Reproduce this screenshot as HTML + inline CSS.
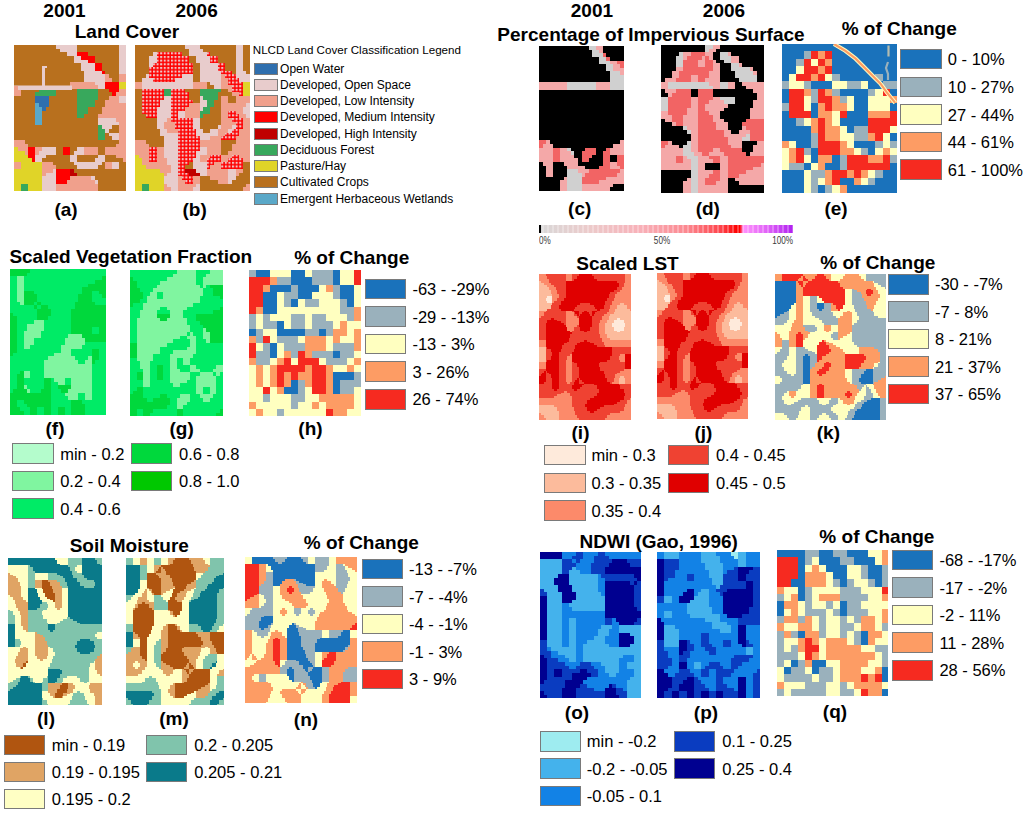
<!DOCTYPE html>
<html><head><meta charset="utf-8"><style>
html,body{margin:0;padding:0;background:#fff;}
body{width:1024px;height:814px;position:relative;overflow:hidden;font-family:"Liberation Sans", sans-serif;}
.t{position:absolute;white-space:nowrap;line-height:1;}
.s{position:absolute;box-sizing:border-box;border:1px solid #7a7a7a;}
.m{position:absolute;display:block;}
</style></head><body>
<svg class="m" style="left:14px;top:45px;width:112px;height:146px" viewBox="0 0 32 40" preserveAspectRatio="none" shape-rendering="crispEdges"><rect width="32" height="40" fill="#b8701e"/><path fill="#e8cccc" d="M12 0h6v1h-6zM30 0h2v1h-2zM13 1h5v1h-5zM30 1h2v1h-2zM15 2h3v1h-3zM30 2h2v1h-2zM17 3h2v1h-2zM30 3h2v1h-2zM17 4h4v1h-4zM30 4h2v1h-2zM19 5h4v1h-4zM30 5h2v1h-2zM19 6h4v1h-4zM30 6h2v1h-2zM20 7h5v1h-5zM30 7h2v1h-2zM20 8h6v1h-6zM20 9h6v1h-6zM23 10h3v1h-3zM24 11h2v1h-2zM30 14h2v1h-2zM30 15h2v1h-2zM24 20h5v1h-5zM24 21h6v1h-6zM25 22h3v1h-3zM26 23h1v1h-1zM27 24h3v1h-3zM28 25h2v1h-2zM8 28h4v1h-4zM18 28h2v1h-2zM7 29h5v1h-5zM17 29h3v1h-3zM6 30h3v1h-3zM16 30h2v1h-2zM24 30h2v1h-2zM6 31h2v1h-2zM16 31h2v1h-2zM23 31h3v1h-3zM17 32h8v1h-8zM28 32h2v1h-2zM18 33h6v1h-6zM28 33h2v1h-2zM11 34h1v1h-1zM9 35h3v1h-3zM8 36h4v1h-4zM22 36h1v1h-1zM8 37h4v1h-4zM23 37h1v1h-1zM8 38h4v1h-4zM8 39h4v1h-4z"/><path fill="#ff0000" d="M18 2h3v1h-3zM19 3h4v1h-4zM21 4h2v1h-2zM23 5h2v1h-2zM23 6h2v1h-2zM25 7h1v1h-1zM26 10h4v1h-4zM26 11h4v1h-4zM27 12h3v1h-3zM28 13h1v1h-1zM4 28h2v1h-2zM14 28h2v1h-2zM4 29h2v1h-2zM14 29h2v1h-2zM4 30h2v1h-2zM5 31h1v1h-1zM12 34h4v1h-4zM12 35h4v1h-4zM12 36h4v1h-4zM12 37h3v1h-3z"/><path fill="#f0a08c" d="M26 8h1v1h-1zM30 8h2v1h-2zM26 9h2v1h-2zM30 9h2v1h-2zM16 10h7v1h-7zM16 11h8v1h-8zM0 12h2v1h-2zM30 12h2v1h-2zM0 13h2v1h-2zM29 13h3v1h-3zM27 14h3v1h-3zM26 15h4v1h-4zM26 16h6v1h-6zM25 17h7v1h-7zM25 18h7v1h-7zM24 19h8v1h-8zM29 20h3v1h-3zM30 21h2v1h-2zM30 22h2v1h-2zM30 23h2v1h-2zM30 24h2v1h-2zM30 25h2v1h-2zM0 26h3v1h-3zM30 26h2v1h-2zM0 27h4v1h-4zM29 27h3v1h-3zM1 28h3v1h-3zM6 28h2v1h-2zM20 28h4v1h-4zM26 28h6v1h-6zM3 29h1v1h-1zM6 29h1v1h-1zM20 29h4v1h-4zM26 29h6v1h-6zM29 30h3v1h-3zM31 31h1v1h-1zM0 32h2v1h-2zM8 32h3v1h-3zM26 32h2v1h-2zM0 33h2v1h-2zM8 33h4v1h-4zM26 33h2v1h-2zM8 34h3v1h-3zM8 35h1v1h-1zM16 36h6v1h-6zM15 37h8v1h-8zM12 38h12v1h-12zM12 39h12v1h-12z"/><path fill="#e0d428" d="M30 10h2v1h-2zM30 11h2v1h-2zM0 28h1v1h-1zM0 29h3v1h-3zM0 30h4v1h-4zM0 31h5v1h-5zM2 32h6v1h-6zM2 33h6v1h-6zM0 34h8v1h-8zM0 35h8v1h-8zM0 36h8v1h-8zM0 37h8v1h-8zM0 38h2v1h-2zM4 38h4v1h-4zM0 39h2v1h-2zM4 39h4v1h-4z"/><path fill="#38a85c" d="M7 12h5v1h-5zM18 12h6v1h-6zM6 13h6v1h-6zM18 13h6v1h-6zM18 14h6v1h-6zM18 15h5v1h-5zM18 16h5v1h-5zM18 17h3v1h-3zM18 18h3v1h-3zM18 19h2v1h-2zM24 22h1v1h-1zM24 23h2v1h-2zM24 24h2v1h-2zM24 25h2v1h-2zM2 38h2v1h-2zM2 39h2v1h-2z"/><path fill="#2f6fae" d="M6 14h4v1h-4zM6 15h4v1h-4zM7 16h3v1h-3zM8 17h1v1h-1z"/><path fill="#5aa8c8" d="M6 16h1v1h-1zM6 17h2v1h-2zM6 18h2v1h-2zM6 19h2v1h-2zM6 20h2v1h-2zM6 21h2v1h-2z"/><path fill="#c00000" d="M16 34h1v1h-1zM16 35h2v1h-2z"/><g transform="scale(0.28571,0.27397)" shape-rendering="auto"><rect x="0" y="40.5" width="58" height="4.5" fill="#e8cccc"/><rect x="0" y="41" width="4" height="6" fill="#f0a08c"/><rect x="28" y="21" width="3" height="20" fill="#e8cccc"/><rect x="28" y="21" width="5" height="2" fill="#e8cccc"/></g></svg>
<svg class="m" style="left:135px;top:45px;width:115px;height:146px" viewBox="0 0 32 40" preserveAspectRatio="none" shape-rendering="crispEdges"><rect width="32" height="40" fill="#b8701e"/><path fill="#e8cccc" d="M14 0h4v1h-4zM28 0h2v1h-2zM15 1h4v1h-4zM28 1h2v1h-2zM5 2h1v1h-1zM15 2h5v1h-5zM28 2h2v1h-2zM4 3h2v1h-2zM17 3h4v1h-4zM28 3h2v1h-2zM4 4h2v1h-2zM17 4h4v1h-4zM28 4h2v1h-2zM4 5h1v1h-1zM18 5h5v1h-5zM28 5h2v1h-2zM18 6h5v1h-5zM28 6h2v1h-2zM18 7h6v1h-6zM28 7h3v1h-3zM3 8h1v1h-1zM13 8h3v1h-3zM18 8h6v1h-6zM28 8h4v1h-4zM2 9h3v1h-3zM11 9h5v1h-5zM18 9h6v1h-6zM29 9h3v1h-3zM2 10h14v1h-14zM21 10h3v1h-3zM2 11h14v1h-14zM22 11h2v1h-2zM8 14h2v1h-2zM18 14h1v1h-1zM7 15h3v1h-3zM18 15h2v1h-2zM7 16h3v1h-3zM18 16h2v1h-2zM31 16h1v1h-1zM6 17h4v1h-4zM18 17h1v1h-1zM30 17h2v1h-2zM6 18h4v1h-4zM12 18h2v1h-2zM30 18h2v1h-2zM6 19h4v1h-4zM12 19h2v1h-2zM31 19h1v1h-1zM6 20h3v1h-3zM16 20h2v1h-2zM6 21h2v1h-2zM16 21h2v1h-2zM6 22h2v1h-2zM16 22h2v1h-2zM23 22h1v1h-1zM27 22h1v1h-1zM7 23h2v1h-2zM17 23h2v1h-2zM21 23h2v1h-2zM26 23h1v1h-1zM7 24h5v1h-5zM17 24h6v1h-6zM8 25h4v1h-4zM18 25h3v1h-3zM8 26h4v1h-4zM8 27h4v1h-4zM8 28h4v1h-4zM18 28h2v1h-2zM8 29h4v1h-4zM17 29h3v1h-3zM8 30h4v1h-4zM17 30h1v1h-1zM9 31h3v1h-3zM16 31h2v1h-2zM9 32h3v1h-3zM16 32h4v1h-4zM10 33h2v1h-2zM16 33h4v1h-4zM10 34h2v1h-2zM17 34h3v1h-3zM26 34h2v1h-2zM9 35h3v1h-3zM18 35h2v1h-2zM26 35h2v1h-2zM8 36h4v1h-4zM26 36h2v1h-2zM8 37h4v1h-4zM26 37h1v1h-1zM9 38h3v1h-3zM17 38h1v1h-1zM10 39h2v1h-2zM16 39h2v1h-2z"/><path fill="url(#pbm)" d="M6 2h7v1h-7zM20 2h1v1h-1zM6 3h9v1h-9zM21 3h2v1h-2zM6 4h9v1h-9zM21 4h2v1h-2zM5 5h11v1h-11zM23 5h2v1h-2zM4 6h12v1h-12zM23 6h2v1h-2zM4 7h12v1h-12zM24 7h3v1h-3zM4 8h9v1h-9zM25 8h3v1h-3zM5 9h6v1h-6zM26 9h3v1h-3zM26 10h4v1h-4zM27 11h3v1h-3zM2 12h6v1h-6zM10 12h4v1h-4zM27 12h3v1h-3zM2 13h6v1h-6zM10 13h5v1h-5zM29 13h1v1h-1zM2 14h6v1h-6zM10 14h5v1h-5zM2 15h5v1h-5zM10 15h6v1h-6zM2 16h5v1h-5zM10 16h5v1h-5zM2 17h4v1h-4zM10 17h4v1h-4zM2 18h4v1h-4zM10 18h2v1h-2zM26 18h2v1h-2zM3 19h3v1h-3zM10 19h2v1h-2zM26 19h3v1h-3zM10 20h6v1h-6zM27 20h3v1h-3zM11 21h5v1h-5zM28 21h2v1h-2zM11 22h5v1h-5zM28 22h2v1h-2zM12 23h5v1h-5zM27 23h2v1h-2zM12 24h5v1h-5zM25 24h4v1h-4zM12 25h6v1h-6zM24 25h4v1h-4zM12 26h6v1h-6zM12 27h6v1h-6zM4 28h2v1h-2zM12 28h6v1h-6zM4 29h2v1h-2zM12 29h5v1h-5zM4 30h2v1h-2zM12 30h5v1h-5zM21 30h3v1h-3zM27 30h2v1h-2zM4 31h2v1h-2zM12 31h4v1h-4zM20 31h4v1h-4zM26 31h4v1h-4zM12 32h3v1h-3zM20 32h2v1h-2zM24 32h6v1h-6zM12 33h2v1h-2zM20 33h1v1h-1zM24 33h6v1h-6zM12 34h2v1h-2zM12 35h3v1h-3zM13 36h3v1h-3zM14 37h2v1h-2z"/><path fill="#f0a08c" d="M24 8h1v1h-1zM24 9h2v1h-2zM0 10h2v1h-2zM16 10h4v1h-4zM24 10h2v1h-2zM0 11h2v1h-2zM16 11h4v1h-4zM24 11h3v1h-3zM26 12h1v1h-1zM27 13h2v1h-2zM24 14h2v1h-2zM28 14h4v1h-4zM24 15h2v1h-2zM28 15h4v1h-4zM15 16h3v1h-3zM24 16h7v1h-7zM14 17h4v1h-4zM24 17h6v1h-6zM14 18h4v1h-4zM24 18h2v1h-2zM28 18h2v1h-2zM14 19h4v1h-4zM24 19h2v1h-2zM29 19h2v1h-2zM9 20h1v1h-1zM24 20h3v1h-3zM30 20h2v1h-2zM8 21h3v1h-3zM24 21h4v1h-4zM30 21h2v1h-2zM8 22h3v1h-3zM24 22h3v1h-3zM30 22h2v1h-2zM9 23h3v1h-3zM23 23h3v1h-3zM29 23h3v1h-3zM23 24h2v1h-2zM29 24h3v1h-3zM21 25h3v1h-3zM28 25h4v1h-4zM0 26h3v1h-3zM18 26h6v1h-6zM28 26h4v1h-4zM0 27h4v1h-4zM18 27h6v1h-6zM27 27h5v1h-5zM0 28h4v1h-4zM6 28h2v1h-2zM20 28h4v1h-4zM27 28h5v1h-5zM0 29h4v1h-4zM6 29h2v1h-2zM20 29h4v1h-4zM26 29h6v1h-6zM1 30h3v1h-3zM6 30h2v1h-2zM18 30h3v1h-3zM24 30h3v1h-3zM29 30h3v1h-3zM2 31h2v1h-2zM6 31h3v1h-3zM18 31h2v1h-2zM24 31h2v1h-2zM30 31h2v1h-2zM2 32h7v1h-7zM22 32h2v1h-2zM3 33h7v1h-7zM21 33h3v1h-3zM7 34h3v1h-3zM20 34h6v1h-6zM28 34h2v1h-2zM8 35h1v1h-1zM20 35h6v1h-6zM28 35h1v1h-1zM12 36h1v1h-1zM16 36h2v1h-2zM21 36h5v1h-5zM12 37h2v1h-2zM16 37h2v1h-2zM23 37h3v1h-3zM8 38h1v1h-1zM12 38h5v1h-5zM31 38h1v1h-1zM8 39h2v1h-2zM12 39h4v1h-4zM30 39h2v1h-2z"/><path fill="#e0d428" d="M30 10h2v1h-2zM30 11h2v1h-2zM30 12h2v1h-2zM30 13h2v1h-2zM0 30h1v1h-1zM0 31h2v1h-2zM0 32h2v1h-2zM0 33h3v1h-3zM0 34h7v1h-7zM0 35h8v1h-8zM0 36h8v1h-8zM0 37h8v1h-8zM0 38h2v1h-2zM4 38h4v1h-4zM0 39h2v1h-2zM4 39h4v1h-4z"/><path fill="#38a85c" d="M8 12h2v1h-2zM18 12h6v1h-6zM8 13h2v1h-2zM18 13h5v1h-5zM19 14h4v1h-4zM20 15h2v1h-2zM20 16h2v1h-2zM19 17h2v1h-2zM18 18h3v1h-3zM18 19h1v1h-1zM2 38h2v1h-2zM2 39h2v1h-2z"/><path fill="#c00000" d="M14 34h3v1h-3zM15 35h3v1h-3z"/><g transform="scale(0.27826,0.27397)" shape-rendering="auto"><defs><pattern id="pbm" patternUnits="userSpaceOnUse" width="1" height="1"><rect width="1" height="1" fill="#ff0000"/><rect width="0.58" height="0.58" fill="#eec4c4"/></pattern></defs></g></svg>
<svg class="m" style="left:539px;top:46px;width:85px;height:145px" viewBox="0 0 24 40" preserveAspectRatio="none" shape-rendering="crispEdges"><rect width="24" height="40" fill="#000000"/><path fill="#d0d0d0" d="M14 0h2v1h-2zM15 1h2v1h-2zM15 2h3v1h-3zM17 3h2v1h-2zM17 4h3v1h-3zM19 5h2v1h-2zM19 6h2v1h-2zM20 7h3v1h-3zM20 8h4v1h-4zM20 9h4v1h-4zM8 10h8v1h-8zM20 10h4v1h-4zM8 11h8v1h-8zM20 11h4v1h-4zM8 28h1v1h-1zM9 29h1v1h-1zM8 34h3v1h-3zM8 35h4v1h-4zM8 36h4v1h-4zM8 37h4v1h-4zM8 38h4v1h-4zM8 39h4v1h-4z"/><path fill="#f4a8a8" d="M16 0h2v1h-2zM17 1h1v1h-1zM20 4h2v1h-2zM21 5h2v1h-2zM21 6h3v1h-3zM23 7h1v1h-1zM0 10h8v1h-8zM16 10h4v1h-4zM0 11h8v1h-8zM16 11h4v1h-4zM2 26h1v1h-1zM23 26h1v1h-1zM1 27h3v1h-3zM21 27h3v1h-3zM0 28h4v1h-4zM6 28h2v1h-2zM20 28h4v1h-4zM0 29h4v1h-4zM6 29h3v1h-3zM20 29h4v1h-4zM0 30h4v1h-4zM6 30h4v1h-4zM0 31h4v1h-4zM6 31h5v1h-5zM1 32h3v1h-3zM7 32h4v1h-4zM20 32h2v1h-2zM2 33h2v1h-2zM8 33h5v1h-5zM20 33h3v1h-3zM2 34h2v1h-2zM11 34h3v1h-3zM23 34h1v1h-1zM2 35h2v1h-2zM12 35h1v1h-1zM22 35h2v1h-2zM7 36h1v1h-1zM19 36h5v1h-5zM6 37h2v1h-2zM17 37h7v1h-7zM6 38h2v1h-2zM12 38h9v1h-9zM6 39h2v1h-2zM12 39h8v1h-8z"/><path fill="#f26464" d="M18 2h1v1h-1zM19 3h1v1h-1zM22 4h2v1h-2zM23 5h1v1h-1zM0 26h2v1h-2zM0 27h1v1h-1zM4 28h2v1h-2zM13 28h3v1h-3zM19 28h1v1h-1zM4 29h2v1h-2zM12 29h4v1h-4zM18 29h2v1h-2zM4 30h2v1h-2zM12 30h3v1h-3zM18 30h2v1h-2zM22 30h2v1h-2zM4 31h2v1h-2zM12 31h2v1h-2zM18 31h2v1h-2zM22 31h2v1h-2zM18 32h2v1h-2zM22 32h2v1h-2zM17 33h3v1h-3zM23 33h1v1h-1zM14 34h9v1h-9zM13 35h9v1h-9zM12 36h7v1h-7zM12 37h5v1h-5z"/></svg>
<svg class="m" style="left:660.5px;top:45px;width:103.5px;height:147.5px" viewBox="0 0 28 40" preserveAspectRatio="none" shape-rendering="crispEdges"><rect width="28" height="40" fill="#f4a8a8"/><path fill="#000000" d="M0 0h12v1h-12zM16 0h12v1h-12zM0 1h12v1h-12zM15 1h13v1h-13zM0 2h5v1h-5zM14 2h2v1h-2zM19 2h9v1h-9zM0 3h4v1h-4zM14 3h2v1h-2zM21 3h7v1h-7zM0 4h4v1h-4zM15 4h2v1h-2zM21 4h7v1h-7zM0 5h4v1h-4zM16 5h3v1h-3zM22 5h6v1h-6zM0 6h4v1h-4zM16 6h3v1h-3zM25 6h3v1h-3zM0 7h3v1h-3zM16 7h4v1h-4zM26 7h2v1h-2zM0 8h3v1h-3zM16 8h4v1h-4zM26 8h2v1h-2zM0 9h1v1h-1zM16 9h5v1h-5zM26 9h2v1h-2zM20 10h2v1h-2zM20 11h3v1h-3zM0 12h1v1h-1zM8 12h2v1h-2zM14 12h11v1h-11zM0 13h2v1h-2zM8 13h2v1h-2zM14 13h12v1h-12zM20 14h6v1h-6zM20 15h5v1h-5zM18 16h7v1h-7zM17 17h7v1h-7zM16 18h8v1h-8zM16 19h8v1h-8zM0 20h1v1h-1zM17 20h6v1h-6zM0 21h3v1h-3zM18 21h4v1h-4zM0 22h6v1h-6zM18 22h4v1h-4zM0 23h7v1h-7zM19 23h2v1h-2zM0 24h8v1h-8zM0 25h8v1h-8zM3 26h4v1h-4zM22 26h4v1h-4zM5 27h1v1h-1zM22 27h3v1h-3zM22 28h3v1h-3zM23 29h1v1h-1zM12 32h4v1h-4zM12 33h4v1h-4zM0 34h8v1h-8zM0 35h8v1h-8zM0 36h7v1h-7zM18 36h2v1h-2zM0 37h6v1h-6zM18 37h3v1h-3zM0 38h6v1h-6zM18 38h10v1h-10zM0 39h6v1h-6zM18 39h10v1h-10z"/><path fill="#d0d0d0" d="M12 0h2v1h-2zM12 1h1v1h-1zM5 2h1v1h-1zM16 2h2v1h-2zM4 3h2v1h-2zM16 3h3v1h-3zM4 4h2v1h-2zM17 4h2v1h-2zM4 5h2v1h-2zM19 5h2v1h-2zM19 6h5v1h-5zM20 7h5v1h-5zM20 8h6v1h-6zM21 9h5v1h-5zM2 10h11v1h-11zM16 10h2v1h-2zM2 11h12v1h-12zM16 11h2v1h-2zM0 14h2v1h-2zM16 14h4v1h-4zM0 15h2v1h-2zM17 15h3v1h-3zM0 16h2v1h-2zM0 17h2v1h-2zM6 22h1v1h-1zM7 23h1v1h-1zM23 24h1v1h-1zM22 25h2v1h-2zM7 26h1v1h-1zM6 27h2v1h-2zM6 28h2v1h-2zM6 29h3v1h-3zM7 30h3v1h-3zM8 31h2v1h-2zM8 32h2v1h-2zM8 33h2v1h-2zM8 34h2v1h-2zM8 35h2v1h-2zM8 36h2v1h-2zM8 37h2v1h-2zM8 38h2v1h-2zM8 39h2v1h-2z"/><path fill="#f26464" d="M8 2h4v1h-4zM7 3h4v1h-4zM12 3h1v1h-1zM6 4h4v1h-4zM12 4h2v1h-2zM6 5h4v1h-4zM12 5h2v1h-2zM6 6h8v1h-8zM5 7h8v1h-8zM5 8h3v1h-3zM10 8h3v1h-3zM4 9h4v1h-4zM10 9h2v1h-2zM4 12h4v1h-4zM10 12h4v1h-4zM3 13h5v1h-5zM10 13h4v1h-4zM2 14h6v1h-6zM10 14h4v1h-4zM2 15h6v1h-6zM10 15h3v1h-3zM2 16h6v1h-6zM10 16h2v1h-2zM2 17h5v1h-5zM10 17h2v1h-2zM2 18h5v1h-5zM10 18h3v1h-3zM3 19h3v1h-3zM10 19h4v1h-4zM3 20h3v1h-3zM10 20h4v1h-4zM23 20h5v1h-5zM4 21h2v1h-2zM10 21h5v1h-5zM22 21h6v1h-6zM10 22h5v1h-5zM23 22h5v1h-5zM10 23h7v1h-7zM24 23h4v1h-4zM10 24h7v1h-7zM24 24h4v1h-4zM10 25h8v1h-8zM24 25h4v1h-4zM0 26h2v1h-2zM10 26h8v1h-8zM0 27h1v1h-1zM10 27h9v1h-9zM10 28h4v1h-4zM16 28h6v1h-6zM11 29h2v1h-2zM17 29h6v1h-6zM4 30h2v1h-2zM13 30h3v1h-3zM18 30h10v1h-10zM4 31h2v1h-2zM14 31h2v1h-2zM18 31h10v1h-10zM18 32h9v1h-9zM18 33h7v1h-7zM14 34h2v1h-2zM18 34h5v1h-5zM13 35h3v1h-3zM18 35h3v1h-3zM12 36h4v1h-4zM12 37h3v1h-3z"/></svg>
<svg class="m" style="left:782px;top:44px;width:115px;height:148.5px" viewBox="0 0 16 20" preserveAspectRatio="none" shape-rendering="crispEdges"><rect width="16" height="20" fill="#1a72bb"/><path fill="#9ab1bc" d="M3 1h1v1h-1zM2 2h1v1h-1zM7 4h1v1h-1zM13 4h1v1h-1zM0 5h1v1h-1zM3 5h1v1h-1zM9 5h2v1h-2zM14 5h2v1h-2zM4 6h1v1h-1zM7 6h1v1h-1zM12 6h1v1h-1zM4 7h1v1h-1zM8 7h1v1h-1zM0 8h1v1h-1zM2 10h1v1h-1zM10 11h2v1h-2zM4 12h1v1h-1zM10 12h2v1h-2zM4 13h1v1h-1zM13 13h1v1h-1zM15 13h1v1h-1zM3 14h1v1h-1zM11 14h1v1h-1zM8 15h1v1h-1zM15 15h1v1h-1zM1 16h2v1h-2zM8 16h1v1h-1zM4 17h2v1h-2zM13 17h1v1h-1zM4 18h1v1h-1zM12 18h1v1h-1zM4 19h1v1h-1zM6 19h1v1h-1z"/><path fill="#f62a20" d="M4 1h1v1h-1zM6 1h1v1h-1zM3 2h1v1h-1zM5 2h1v1h-1zM3 3h2v1h-2zM6 3h1v1h-1zM2 4h2v1h-2zM5 4h1v1h-1zM1 6h2v1h-2zM5 6h1v1h-1zM14 6h1v1h-1zM1 7h2v1h-2zM5 7h2v1h-2zM1 8h2v1h-2zM6 8h1v1h-1zM1 9h3v1h-3zM8 9h1v1h-1zM15 9h1v1h-1zM5 10h1v1h-1zM12 10h4v1h-4zM5 11h1v1h-1zM12 11h3v1h-3zM5 12h1v1h-1zM13 12h1v1h-1zM5 13h3v1h-3zM2 14h1v1h-1zM5 14h3v1h-3zM2 15h1v1h-1zM9 15h3v1h-3zM14 15h1v1h-1zM9 16h6v1h-6zM7 17h2v1h-2zM10 17h1v1h-1zM7 18h1v1h-1z"/><path fill="#fd9c64" d="M5 1h1v1h-1zM6 2h1v1h-1zM5 3h1v1h-1zM4 4h1v1h-1zM3 6h1v1h-1zM6 6h1v1h-1zM7 7h1v1h-1zM15 7h1v1h-1zM5 8h1v1h-1zM7 8h2v1h-2zM5 9h2v1h-2zM12 9h3v1h-3zM4 10h1v1h-1zM6 10h1v1h-1zM4 11h1v1h-1zM6 11h2v1h-2zM6 12h2v1h-2zM12 12h1v1h-1zM0 13h1v1h-1zM8 13h1v1h-1zM1 14h1v1h-1zM8 14h2v1h-2zM14 14h1v1h-1zM1 15h1v1h-1zM5 15h2v1h-2zM12 15h2v1h-2zM5 16h1v1h-1zM6 17h1v1h-1zM9 17h1v1h-1zM11 17h1v1h-1zM6 18h1v1h-1zM10 18h1v1h-1zM8 19h1v1h-1z"/><path fill="#ffffc0" d="M4 2h1v1h-1zM2 3h1v1h-1zM1 4h1v1h-1zM6 4h1v1h-1zM1 5h2v1h-2zM7 5h2v1h-2zM11 5h1v1h-1zM13 6h1v1h-1zM3 7h1v1h-1zM9 7h1v1h-1zM12 7h3v1h-3zM3 8h1v1h-1zM9 8h1v1h-1zM12 8h3v1h-3zM7 9h1v1h-1zM3 10h1v1h-1zM7 10h1v1h-1zM8 11h1v1h-1zM15 11h1v1h-1zM8 12h2v1h-2zM14 12h1v1h-1zM1 13h1v1h-1zM9 13h1v1h-1zM14 13h1v1h-1zM0 14h1v1h-1zM10 14h1v1h-1zM13 14h1v1h-1zM15 14h1v1h-1zM0 15h1v1h-1zM3 15h1v1h-1zM0 16h1v1h-1zM4 16h1v1h-1zM3 17h1v1h-1zM12 17h1v1h-1zM3 18h1v1h-1zM5 18h1v1h-1zM11 18h1v1h-1zM3 19h1v1h-1zM7 19h1v1h-1z"/><g transform="scale(0.13913,0.13468)" shape-rendering="auto"><polyline points="52,0 63.4,6.8 73.6,14.7 81.5,22.6 90.6,31.7 98.5,39.6 104.2,47.6 108.7,53.2 113.2,58.9" fill="none" stroke="#ffffc0" stroke-width="4.2"/><polyline points="52,0 63.4,6.8 73.6,14.7 81.5,22.6 90.6,31.7 98.5,39.6 104.2,47.6 108.7,53.2 113.2,58.9" fill="none" stroke="#fd9c64" stroke-width="2.2"/><line x1="106.5" y1="1.5" x2="106.5" y2="12.5" stroke="#b4bcb0" stroke-width="2.2"/><polyline points="106,18 104,24 106,30 106,36" fill="none" stroke="#9ab1bc" stroke-width="2.2"/></g></svg>
<svg class="m" style="left:10px;top:269px;width:95.5px;height:145.5px" viewBox="0 0 28 40" preserveAspectRatio="none" shape-rendering="crispEdges"><rect width="28" height="40" fill="#00eb66"/><path fill="#00d83c" d="M0 0h6v1h-6zM0 1h5v1h-5zM27 2h1v1h-1zM25 3h3v1h-3zM23 4h5v1h-5zM21 5h7v1h-7zM4 6h3v1h-3zM21 6h3v1h-3zM26 6h2v1h-2zM4 7h4v1h-4zM20 7h4v1h-4zM27 7h1v1h-1zM4 8h4v1h-4zM20 8h4v1h-4zM4 9h3v1h-3zM8 9h1v1h-1zM19 9h6v1h-6zM7 10h1v1h-1zM9 10h2v1h-2zM19 10h9v1h-9zM8 11h4v1h-4zM18 11h10v1h-10zM0 12h1v1h-1zM8 12h4v1h-4zM18 12h10v1h-10zM0 13h2v1h-2zM8 13h3v1h-3zM18 13h10v1h-10zM0 14h2v1h-2zM18 14h10v1h-10zM0 15h2v1h-2zM18 15h10v1h-10zM0 16h2v1h-2zM18 16h6v1h-6zM26 16h2v1h-2zM0 17h2v1h-2zM18 17h6v1h-6zM26 17h2v1h-2zM0 18h2v1h-2zM21 18h7v1h-7zM0 19h2v1h-2zM22 19h6v1h-6zM0 20h2v1h-2zM0 21h2v1h-2zM0 22h2v1h-2zM24 22h2v1h-2zM0 23h1v1h-1zM24 23h2v1h-2zM24 24h2v1h-2zM24 25h1v1h-1zM3 28h1v1h-1zM2 29h2v1h-2zM2 30h2v1h-2zM10 30h2v1h-2zM2 31h2v1h-2zM10 31h2v1h-2zM2 32h2v1h-2zM10 32h2v1h-2zM14 32h4v1h-4zM1 33h4v1h-4zM9 33h3v1h-3zM15 33h2v1h-2zM0 34h12v1h-12zM0 35h12v1h-12zM0 36h2v1h-2zM4 36h8v1h-8zM18 36h3v1h-3zM0 37h2v1h-2zM5 37h7v1h-7zM18 37h4v1h-4zM0 38h3v1h-3zM6 38h2v1h-2zM10 38h2v1h-2zM14 38h2v1h-2zM18 38h4v1h-4zM0 39h4v1h-4zM6 39h2v1h-2zM10 39h2v1h-2zM14 39h2v1h-2zM18 39h4v1h-4z"/><path fill="#80f5a0" d="M2 2h2v1h-2zM2 3h2v1h-2zM2 4h2v1h-2zM2 5h2v1h-2zM2 6h2v1h-2zM2 7h2v1h-2zM2 8h2v1h-2zM3 9h1v1h-1zM7 14h3v1h-3zM5 15h5v1h-5zM5 16h5v1h-5zM4 17h5v1h-5zM4 18h5v1h-5zM17 18h4v1h-4zM4 19h3v1h-3zM16 19h6v1h-6zM4 20h3v1h-3zM16 20h6v1h-6zM4 21h2v1h-2zM15 21h6v1h-6zM15 22h3v1h-3zM13 23h5v1h-5zM11 24h8v1h-8zM23 24h1v1h-1zM10 25h10v1h-10zM22 25h2v1h-2zM10 26h14v1h-14zM10 27h14v1h-14zM4 28h2v1h-2zM10 28h14v1h-14zM4 29h2v1h-2zM10 29h14v1h-14zM13 30h3v1h-3zM18 30h6v1h-6zM14 31h2v1h-2zM18 31h6v1h-6zM4 32h1v1h-1zM18 32h6v1h-6zM5 33h1v1h-1zM17 33h7v1h-7zM16 34h4v1h-4zM22 34h2v1h-2zM17 35h3v1h-3zM22 35h2v1h-2z"/></svg>
<svg class="m" style="left:129.7px;top:269.7px;width:93.1px;height:146.2px" viewBox="0 0 28 40" preserveAspectRatio="none" shape-rendering="crispEdges"><rect width="28" height="40" fill="#00eb66"/><path fill="#80f5a0" d="M14 0h6v1h-6zM24 0h4v1h-4zM13 1h7v1h-7zM23 1h5v1h-5zM11 2h9v1h-9zM22 2h6v1h-6zM9 3h11v1h-11zM22 3h6v1h-6zM8 4h13v1h-13zM22 4h1v1h-1zM7 5h15v1h-15zM6 6h2v1h-2zM10 6h12v1h-12zM5 7h3v1h-3zM10 7h11v1h-11zM5 8h16v1h-16zM4 9h15v1h-15zM4 10h5v1h-5zM11 10h6v1h-6zM3 11h5v1h-5zM12 11h4v1h-4zM3 12h5v1h-5zM12 12h4v1h-4zM2 13h7v1h-7zM11 13h6v1h-6zM2 14h15v1h-15zM2 15h16v1h-16zM2 16h16v1h-16zM22 16h1v1h-1zM2 17h15v1h-15zM18 17h1v1h-1zM22 17h2v1h-2zM2 18h13v1h-13zM17 18h3v1h-3zM22 18h2v1h-2zM2 19h11v1h-11zM18 19h2v1h-2zM23 19h1v1h-1zM2 20h9v1h-9zM18 20h2v1h-2zM2 21h7v1h-7zM17 21h3v1h-3zM2 22h7v1h-7zM13 22h7v1h-7zM2 23h5v1h-5zM12 23h7v1h-7zM2 24h5v1h-5zM12 24h2v1h-2zM16 24h2v1h-2zM3 25h3v1h-3zM12 25h2v1h-2zM16 25h2v1h-2zM3 26h3v1h-3zM12 26h2v1h-2zM18 26h2v1h-2zM26 26h2v1h-2zM4 27h2v1h-2zM12 27h3v1h-3zM18 27h3v1h-3zM25 27h3v1h-3zM4 28h2v1h-2zM12 28h6v1h-6zM21 28h4v1h-4zM26 28h1v1h-1zM4 29h2v1h-2zM12 29h6v1h-6zM20 29h6v1h-6zM4 30h2v1h-2zM12 30h5v1h-5zM20 30h6v1h-6zM4 31h2v1h-2zM13 31h2v1h-2zM20 31h6v1h-6zM20 32h2v1h-2zM24 32h2v1h-2zM20 33h2v1h-2zM24 33h2v1h-2zM15 34h3v1h-3zM21 34h4v1h-4zM14 35h4v1h-4zM22 35h2v1h-2zM14 36h3v1h-3zM14 37h2v1h-2z"/><path fill="#00d83c" d="M0 2h1v1h-1zM0 3h2v1h-2zM0 4h2v1h-2zM24 4h4v1h-4zM0 5h3v1h-3zM25 5h3v1h-3zM0 6h4v1h-4zM25 6h3v1h-3zM0 7h4v1h-4zM27 7h1v1h-1zM0 8h3v1h-3zM0 9h1v1h-1zM27 10h1v1h-1zM25 11h3v1h-3zM8 12h4v1h-4zM20 12h8v1h-8zM9 13h2v1h-2zM20 13h8v1h-8zM21 14h7v1h-7zM22 15h6v1h-6zM23 16h5v1h-5zM24 17h4v1h-4zM24 18h4v1h-4zM24 19h4v1h-4zM0 20h2v1h-2zM0 21h2v1h-2zM0 22h2v1h-2zM0 23h2v1h-2zM8 26h2v1h-2zM8 27h2v1h-2zM2 28h2v1h-2zM8 28h2v1h-2zM2 29h2v1h-2zM8 29h2v1h-2zM2 32h2v1h-2zM1 33h3v1h-3zM0 34h4v1h-4zM9 34h2v1h-2zM0 35h5v1h-5zM7 35h5v1h-5zM0 36h12v1h-12zM0 37h11v1h-11zM0 38h2v1h-2zM4 38h3v1h-3zM14 38h2v1h-2zM27 38h1v1h-1zM0 39h2v1h-2zM4 39h2v1h-2zM14 39h2v1h-2zM26 39h2v1h-2z"/></svg>
<svg class="m" style="left:249.2px;top:270.1px;width:112.4px;height:146.4px" viewBox="0 0 16 20" preserveAspectRatio="none" shape-rendering="crispEdges"><rect width="16" height="20" fill="#ffffc0"/><path fill="#9ab1bc" d="M0 0h1v1h-1zM9 0h3v1h-3zM4 1h2v1h-2zM9 1h3v1h-3zM6 2h1v1h-1zM12 2h1v1h-1zM5 3h2v1h-2zM12 3h1v1h-1zM5 4h1v1h-1zM8 4h2v1h-2zM13 4h1v1h-1zM13 5h2v1h-2zM0 6h1v1h-1zM2 6h1v1h-1zM6 6h2v1h-2zM9 6h2v1h-2zM14 6h1v1h-1zM0 7h1v1h-1zM2 7h2v1h-2zM6 7h2v1h-2zM9 7h3v1h-3zM1 8h1v1h-1zM8 8h2v1h-2zM11 8h1v1h-1zM1 9h1v1h-1zM4 9h3v1h-3zM2 10h1v1h-1zM5 10h3v1h-3zM12 10h3v1h-3zM1 11h2v1h-2zM6 11h1v1h-1zM9 11h3v1h-3zM13 11h2v1h-2zM1 12h2v1h-2zM11 12h3v1h-3zM15 14h1v1h-1zM7 15h1v1h-1zM13 15h3v1h-3zM7 16h1v1h-1zM13 16h2v1h-2zM2 17h1v1h-1zM6 17h2v1h-2zM6 18h1v1h-1zM4 19h1v1h-1z"/><path fill="#1a72bb" d="M1 0h2v1h-2zM6 0h2v1h-2zM12 0h1v1h-1zM6 1h3v1h-3zM12 1h1v1h-1zM3 2h3v1h-3zM7 2h3v1h-3zM13 2h2v1h-2zM2 3h2v1h-2zM7 3h2v1h-2zM13 3h2v1h-2zM2 4h2v1h-2zM6 4h1v1h-1zM14 4h1v1h-1zM2 5h2v1h-2zM4 7h1v1h-1zM0 8h1v1h-1zM4 8h4v1h-4zM10 8h1v1h-1zM3 10h1v1h-1zM3 11h1v1h-1zM12 11h1v1h-1zM12 14h3v1h-3zM6 15h1v1h-1zM12 15h1v1h-1zM5 16h2v1h-2zM12 16h1v1h-1z"/><path fill="#f62a20" d="M15 0h1v1h-1zM0 1h3v1h-3zM15 1h1v1h-1zM0 2h2v1h-2zM0 3h2v1h-2zM0 4h2v1h-2zM0 5h1v1h-1zM2 9h1v1h-1zM0 10h1v1h-1zM0 11h1v1h-1zM7 11h1v1h-1zM5 12h1v1h-1zM7 12h3v1h-3zM4 13h4v1h-4zM9 13h2v1h-2zM4 14h1v1h-1zM6 14h1v1h-1zM9 14h2v1h-2zM4 15h1v1h-1zM9 15h2v1h-2zM2 16h1v1h-1zM9 16h2v1h-2zM11 19h1v1h-1z"/><path fill="#fd9c64" d="M3 1h1v1h-1zM2 2h1v1h-1zM11 2h1v1h-1zM1 5h1v1h-1zM15 5h1v1h-1zM15 6h1v1h-1zM13 7h1v1h-1zM12 8h2v1h-2zM15 8h1v1h-1zM0 9h1v1h-1zM8 9h3v1h-3zM12 9h1v1h-1zM15 9h1v1h-1zM8 10h3v1h-3zM15 10h1v1h-1zM5 11h1v1h-1zM8 11h1v1h-1zM0 12h1v1h-1zM4 12h1v1h-1zM15 12h1v1h-1zM1 13h1v1h-1zM3 13h1v1h-1zM8 13h1v1h-1zM11 13h1v1h-1zM14 13h1v1h-1zM1 14h1v1h-1zM3 14h1v1h-1zM5 14h1v1h-1zM7 14h2v1h-2zM11 14h1v1h-1zM1 15h1v1h-1zM3 15h1v1h-1zM5 15h1v1h-1zM8 15h1v1h-1zM11 15h1v1h-1zM4 16h1v1h-1zM11 16h1v1h-1zM10 17h5v1h-5zM0 18h1v1h-1zM9 18h1v1h-1zM11 18h4v1h-4zM1 19h1v1h-1zM12 19h2v1h-2z"/></svg>
<svg class="m" style="left:538.5px;top:273.5px;width:92.8px;height:146px" viewBox="0 0 56 80" preserveAspectRatio="none" shape-rendering="crispEdges"><rect width="56" height="80" fill="#e00000"/><path fill="#fc8a6a" d="M0 0h4v1h-4zM16 0h4v1h-4zM52 0h4v1h-4zM0 1h5v1h-5zM16 1h4v1h-4zM52 1h4v1h-4zM0 2h5v1h-5zM16 2h4v1h-4zM52 2h4v1h-4zM0 3h6v1h-6zM16 3h4v1h-4zM52 3h4v1h-4zM1 4h5v1h-5zM52 4h4v1h-4zM3 5h4v1h-4zM51 5h5v1h-5zM5 6h4v1h-4zM51 6h5v1h-5zM6 7h4v1h-4zM50 7h6v1h-6zM6 8h4v1h-4zM50 8h6v1h-6zM7 9h4v1h-4zM49 9h7v1h-7zM7 10h4v1h-4zM47 10h9v1h-9zM8 11h4v1h-4zM46 11h10v1h-10zM8 12h4v1h-4zM46 12h10v1h-10zM8 13h3v1h-3zM45 13h11v1h-11zM8 14h3v1h-3zM45 14h11v1h-11zM8 15h1v1h-1zM44 15h12v1h-12zM44 16h5v1h-5zM51 16h5v1h-5zM43 17h4v1h-4zM53 17h3v1h-3zM43 18h4v1h-4zM53 18h3v1h-3zM42 19h4v1h-4zM55 19h1v1h-1zM0 20h4v1h-4zM16 20h4v1h-4zM42 20h4v1h-4zM0 21h3v1h-3zM16 21h5v1h-5zM41 21h4v1h-4zM0 22h3v1h-3zM16 22h5v1h-5zM39 22h4v1h-4zM0 23h1v1h-1zM16 23h7v1h-7zM38 23h4v1h-4zM16 24h8v1h-8zM38 24h4v1h-4zM16 25h8v1h-8zM37 25h4v1h-4zM16 26h8v1h-8zM37 26h4v1h-4zM16 27h8v1h-8zM36 27h4v1h-4zM16 28h7v1h-7zM36 28h4v1h-4zM17 29h4v1h-4zM36 29h4v1h-4zM17 30h4v1h-4zM36 30h4v1h-4zM19 31h1v1h-1zM36 31h4v1h-4zM36 32h4v1h-4zM37 33h4v1h-4zM37 34h4v1h-4zM38 35h5v1h-5zM0 36h4v1h-4zM38 36h18v1h-18zM0 37h4v1h-4zM39 37h17v1h-17zM0 38h4v1h-4zM39 38h17v1h-17zM0 39h4v1h-4zM40 39h16v1h-16zM19 44h1v1h-1zM49 44h3v1h-3zM17 45h3v1h-3zM48 45h4v1h-4zM17 46h3v1h-3zM48 46h4v1h-4zM16 47h4v1h-4zM49 47h3v1h-3zM0 48h4v1h-4zM16 48h4v1h-4zM0 49h4v1h-4zM16 49h4v1h-4zM0 50h4v1h-4zM16 50h4v1h-4zM0 51h4v1h-4zM16 51h4v1h-4zM16 52h4v1h-4zM51 52h5v1h-5zM16 53h4v1h-4zM49 53h7v1h-7zM16 54h4v1h-4zM47 54h9v1h-9zM16 55h4v1h-4zM46 55h10v1h-10zM16 56h4v1h-4zM46 56h3v1h-3zM51 56h5v1h-5zM16 57h4v1h-4zM45 57h3v1h-3zM52 57h4v1h-4zM16 58h4v1h-4zM45 58h3v1h-3zM52 58h4v1h-4zM17 59h2v1h-2zM44 59h4v1h-4zM52 59h4v1h-4zM15 64h2v1h-2zM13 65h6v1h-6zM11 66h8v1h-8zM9 67h11v1h-11zM0 68h20v1h-20zM55 68h1v1h-1zM0 69h20v1h-20zM53 69h3v1h-3zM0 70h20v1h-20zM53 70h3v1h-3zM0 71h20v1h-20zM52 71h4v1h-4zM9 72h11v1h-11zM52 72h4v1h-4zM11 73h10v1h-10zM51 73h5v1h-5zM11 74h10v1h-10zM51 74h5v1h-5zM12 75h10v1h-10zM49 75h7v1h-7zM0 76h1v1h-1zM12 76h10v1h-10zM43 76h13v1h-13zM0 77h3v1h-3zM12 77h11v1h-11zM41 77h15v1h-15zM0 78h3v1h-3zM12 78h11v1h-11zM41 78h15v1h-15zM0 79h4v1h-4zM12 79h12v1h-12zM40 79h16v1h-16z"/><path fill="#ef4232" d="M4 0h12v1h-12zM20 0h4v1h-4zM32 0h20v1h-20zM5 1h11v1h-11zM20 1h3v1h-3zM33 1h19v1h-19zM5 2h11v1h-11zM20 2h3v1h-3zM33 2h19v1h-19zM6 3h10v1h-10zM20 3h1v1h-1zM35 3h17v1h-17zM6 4h10v1h-10zM47 4h5v1h-5zM7 5h9v1h-9zM48 5h3v1h-3zM9 6h7v1h-7zM48 6h3v1h-3zM10 7h6v1h-6zM47 7h3v1h-3zM10 8h6v1h-6zM47 8h3v1h-3zM11 9h5v1h-5zM45 9h4v1h-4zM11 10h5v1h-5zM43 10h4v1h-4zM12 11h4v1h-4zM42 11h4v1h-4zM12 12h4v1h-4zM42 12h4v1h-4zM11 13h4v1h-4zM41 13h4v1h-4zM11 14h4v1h-4zM41 14h4v1h-4zM9 15h4v1h-4zM40 15h4v1h-4zM8 16h5v1h-5zM25 16h6v1h-6zM40 16h4v1h-4zM7 17h5v1h-5zM23 17h10v1h-10zM39 17h4v1h-4zM7 18h5v1h-5zM22 18h12v1h-12zM39 18h4v1h-4zM5 19h8v1h-8zM21 19h14v1h-14zM37 19h5v1h-5zM4 20h12v1h-12zM20 20h1v1h-1zM24 20h3v1h-3zM29 20h3v1h-3zM35 20h7v1h-7zM3 21h13v1h-13zM21 21h1v1h-1zM24 21h2v1h-2zM30 21h2v1h-2zM34 21h7v1h-7zM3 22h13v1h-13zM21 22h2v1h-2zM24 22h1v1h-1zM31 22h1v1h-1zM33 22h6v1h-6zM1 23h15v1h-15zM23 23h1v1h-1zM32 23h6v1h-6zM0 24h7v1h-7zM9 24h7v1h-7zM32 24h6v1h-6zM0 25h5v1h-5zM11 25h5v1h-5zM32 25h5v1h-5zM0 26h5v1h-5zM13 26h3v1h-3zM32 26h5v1h-5zM0 27h4v1h-4zM15 27h1v1h-1zM32 27h4v1h-4zM0 28h4v1h-4zM23 28h1v1h-1zM32 28h4v1h-4zM0 29h4v1h-4zM21 29h4v1h-4zM31 29h5v1h-5zM0 30h4v1h-4zM21 30h4v1h-4zM31 30h5v1h-5zM0 31h4v1h-4zM20 31h7v1h-7zM29 31h7v1h-7zM0 32h4v1h-4zM20 32h16v1h-16zM0 33h4v1h-4zM19 33h18v1h-18zM0 34h4v1h-4zM19 34h18v1h-18zM0 35h4v1h-4zM18 35h20v1h-20zM18 36h9v1h-9zM29 36h9v1h-9zM17 37h8v1h-8zM31 37h8v1h-8zM15 38h8v1h-8zM33 38h6v1h-6zM14 39h8v1h-8zM35 39h5v1h-5zM4 40h1v1h-1zM14 40h8v1h-8zM44 40h12v1h-12zM4 41h3v1h-3zM13 41h8v1h-8zM44 41h12v1h-12zM4 42h3v1h-3zM13 42h8v1h-8zM44 42h12v1h-12zM4 43h4v1h-4zM12 43h8v1h-8zM44 43h12v1h-12zM4 44h4v1h-4zM12 44h7v1h-7zM44 44h5v1h-5zM4 45h3v1h-3zM12 45h5v1h-5zM43 45h5v1h-5zM4 46h3v1h-3zM12 46h5v1h-5zM43 46h5v1h-5zM4 47h1v1h-1zM12 47h4v1h-4zM41 47h8v1h-8zM12 48h4v1h-4zM20 48h1v1h-1zM37 48h15v1h-15zM12 49h4v1h-4zM20 49h3v1h-3zM36 49h16v1h-16zM12 50h4v1h-4zM20 50h3v1h-3zM36 50h16v1h-16zM12 51h4v1h-4zM20 51h4v1h-4zM37 51h15v1h-15zM0 52h4v1h-4zM12 52h4v1h-4zM20 52h4v1h-4zM37 52h14v1h-14zM0 53h3v1h-3zM4 53h1v1h-1zM12 53h4v1h-4zM20 53h4v1h-4zM39 53h10v1h-10zM0 54h2v1h-2zM4 54h2v1h-2zM12 54h4v1h-4zM20 54h4v1h-4zM39 54h8v1h-8zM0 55h1v1h-1zM4 55h3v1h-3zM12 55h4v1h-4zM20 55h4v1h-4zM40 55h6v1h-6zM4 56h3v1h-3zM12 56h4v1h-4zM20 56h4v1h-4zM40 56h6v1h-6zM4 57h4v1h-4zM12 57h4v1h-4zM20 57h3v1h-3zM24 57h1v1h-1zM41 57h4v1h-4zM4 58h4v1h-4zM12 58h4v1h-4zM20 58h2v1h-2zM24 58h2v1h-2zM41 58h4v1h-4zM3 59h5v1h-5zM12 59h5v1h-5zM19 59h2v1h-2zM24 59h3v1h-3zM43 59h1v1h-1zM0 60h8v1h-8zM12 60h9v1h-9zM27 60h6v1h-6zM48 60h8v1h-8zM0 61h8v1h-8zM12 61h8v1h-8zM26 61h9v1h-9zM49 61h7v1h-7zM0 62h8v1h-8zM12 62h8v1h-8zM25 62h10v1h-10zM49 62h7v1h-7zM0 63h9v1h-9zM11 63h10v1h-10zM23 63h13v1h-13zM51 63h5v1h-5zM0 64h15v1h-15zM17 64h19v1h-19zM51 64h5v1h-5zM0 65h13v1h-13zM19 65h16v1h-16zM52 65h4v1h-4zM0 66h11v1h-11zM19 66h16v1h-16zM52 66h4v1h-4zM0 67h9v1h-9zM20 67h13v1h-13zM51 67h5v1h-5zM20 68h11v1h-11zM51 68h4v1h-4zM20 69h9v1h-9zM49 69h4v1h-4zM20 70h9v1h-9zM47 70h6v1h-6zM20 71h8v1h-8zM45 71h7v1h-7zM20 72h8v1h-8zM39 72h13v1h-13zM21 73h8v1h-8zM37 73h14v1h-14zM21 74h8v1h-8zM35 74h16v1h-16zM22 75h9v1h-9zM33 75h16v1h-16zM22 76h21v1h-21zM23 77h18v1h-18zM23 78h18v1h-18zM24 79h16v1h-16z"/><path fill="#fcbb9c" d="M0 4h1v1h-1zM0 5h3v1h-3zM0 6h5v1h-5zM0 7h6v1h-6zM0 8h6v1h-6zM0 9h7v1h-7zM0 10h7v1h-7zM0 11h8v1h-8zM0 12h5v1h-5zM0 13h4v1h-4zM0 14h4v1h-4zM0 15h5v1h-5zM0 16h8v1h-8zM49 16h2v1h-2zM0 17h7v1h-7zM47 17h6v1h-6zM0 18h7v1h-7zM47 18h6v1h-6zM0 19h5v1h-5zM46 19h9v1h-9zM46 20h10v1h-10zM45 21h11v1h-11zM43 22h13v1h-13zM42 23h14v1h-14zM42 24h5v1h-5zM49 24h7v1h-7zM41 25h4v1h-4zM51 25h5v1h-5zM41 26h4v1h-4zM51 26h5v1h-5zM40 27h4v1h-4zM52 27h4v1h-4zM40 28h4v1h-4zM52 28h4v1h-4zM40 29h5v1h-5zM51 29h5v1h-5zM40 30h5v1h-5zM51 30h5v1h-5zM40 31h7v1h-7zM49 31h7v1h-7zM40 32h16v1h-16zM41 33h15v1h-15zM41 34h15v1h-15zM43 35h13v1h-13zM0 40h4v1h-4zM0 41h4v1h-4zM0 42h4v1h-4zM0 43h4v1h-4zM0 44h4v1h-4zM0 45h4v1h-4zM0 46h4v1h-4zM0 47h4v1h-4zM49 56h2v1h-2zM48 57h4v1h-4zM48 58h4v1h-4zM48 59h4v1h-4zM0 72h9v1h-9zM0 73h11v1h-11zM0 74h11v1h-11zM0 75h12v1h-12zM1 76h11v1h-11zM3 77h9v1h-9zM3 78h9v1h-9zM4 79h8v1h-8z"/><path fill="#feeadb" d="M5 12h3v1h-3zM4 13h4v1h-4zM4 14h4v1h-4zM5 15h3v1h-3zM47 24h2v1h-2zM45 25h6v1h-6zM45 26h6v1h-6zM44 27h8v1h-8zM44 28h8v1h-8zM45 29h6v1h-6zM45 30h6v1h-6zM47 31h2v1h-2z"/></svg>
<svg class="m" style="left:656.8px;top:272.5px;width:91.2px;height:146px" viewBox="0 0 56 80" preserveAspectRatio="none" shape-rendering="crispEdges"><rect width="56" height="80" fill="#e00000"/><path fill="#fc8a6a" d="M0 0h4v1h-4zM16 0h4v1h-4zM52 0h4v1h-4zM0 1h5v1h-5zM16 1h4v1h-4zM52 1h4v1h-4zM0 2h5v1h-5zM16 2h4v1h-4zM52 2h4v1h-4zM0 3h6v1h-6zM16 3h4v1h-4zM52 3h4v1h-4zM1 4h5v1h-5zM52 4h4v1h-4zM3 5h4v1h-4zM51 5h5v1h-5zM5 6h4v1h-4zM51 6h5v1h-5zM6 7h4v1h-4zM50 7h6v1h-6zM6 8h4v1h-4zM50 8h6v1h-6zM7 9h4v1h-4zM49 9h7v1h-7zM7 10h4v1h-4zM47 10h9v1h-9zM8 11h4v1h-4zM46 11h10v1h-10zM8 12h4v1h-4zM46 12h10v1h-10zM8 13h3v1h-3zM45 13h11v1h-11zM8 14h3v1h-3zM45 14h11v1h-11zM8 15h1v1h-1zM44 15h12v1h-12zM44 16h5v1h-5zM51 16h5v1h-5zM43 17h4v1h-4zM53 17h3v1h-3zM43 18h4v1h-4zM53 18h3v1h-3zM42 19h4v1h-4zM55 19h1v1h-1zM0 20h4v1h-4zM16 20h4v1h-4zM42 20h4v1h-4zM0 21h3v1h-3zM16 21h5v1h-5zM41 21h4v1h-4zM0 22h3v1h-3zM16 22h5v1h-5zM39 22h4v1h-4zM0 23h1v1h-1zM16 23h7v1h-7zM38 23h4v1h-4zM16 24h8v1h-8zM38 24h4v1h-4zM16 25h8v1h-8zM37 25h4v1h-4zM16 26h8v1h-8zM37 26h4v1h-4zM16 27h8v1h-8zM36 27h4v1h-4zM16 28h7v1h-7zM36 28h4v1h-4zM17 29h4v1h-4zM36 29h4v1h-4zM17 30h4v1h-4zM36 30h4v1h-4zM19 31h1v1h-1zM36 31h4v1h-4zM36 32h4v1h-4zM37 33h4v1h-4zM37 34h4v1h-4zM38 35h5v1h-5zM0 36h4v1h-4zM38 36h18v1h-18zM0 37h4v1h-4zM39 37h17v1h-17zM0 38h4v1h-4zM39 38h17v1h-17zM0 39h4v1h-4zM40 39h16v1h-16zM19 44h1v1h-1zM49 44h3v1h-3zM17 45h3v1h-3zM48 45h4v1h-4zM17 46h3v1h-3zM48 46h4v1h-4zM16 47h4v1h-4zM49 47h3v1h-3zM0 48h4v1h-4zM16 48h4v1h-4zM0 49h4v1h-4zM16 49h4v1h-4zM0 50h4v1h-4zM16 50h4v1h-4zM0 51h4v1h-4zM16 51h4v1h-4zM16 52h4v1h-4zM51 52h5v1h-5zM16 53h4v1h-4zM49 53h7v1h-7zM16 54h4v1h-4zM47 54h9v1h-9zM16 55h4v1h-4zM46 55h10v1h-10zM16 56h4v1h-4zM46 56h3v1h-3zM51 56h5v1h-5zM16 57h4v1h-4zM45 57h3v1h-3zM52 57h4v1h-4zM16 58h4v1h-4zM45 58h3v1h-3zM52 58h4v1h-4zM17 59h2v1h-2zM44 59h4v1h-4zM52 59h4v1h-4zM15 64h2v1h-2zM13 65h6v1h-6zM11 66h8v1h-8zM9 67h11v1h-11zM0 68h20v1h-20zM55 68h1v1h-1zM0 69h20v1h-20zM53 69h3v1h-3zM0 70h20v1h-20zM53 70h3v1h-3zM0 71h20v1h-20zM52 71h4v1h-4zM9 72h11v1h-11zM52 72h4v1h-4zM11 73h10v1h-10zM51 73h5v1h-5zM11 74h10v1h-10zM51 74h5v1h-5zM12 75h10v1h-10zM49 75h7v1h-7zM0 76h1v1h-1zM12 76h10v1h-10zM43 76h13v1h-13zM0 77h3v1h-3zM12 77h11v1h-11zM41 77h15v1h-15zM0 78h3v1h-3zM12 78h11v1h-11zM41 78h15v1h-15zM0 79h4v1h-4zM12 79h12v1h-12zM40 79h16v1h-16z"/><path fill="#ef4232" d="M4 0h12v1h-12zM20 0h4v1h-4zM32 0h20v1h-20zM5 1h11v1h-11zM20 1h3v1h-3zM33 1h19v1h-19zM5 2h11v1h-11zM20 2h3v1h-3zM33 2h19v1h-19zM6 3h10v1h-10zM20 3h1v1h-1zM35 3h17v1h-17zM6 4h10v1h-10zM47 4h5v1h-5zM7 5h9v1h-9zM48 5h3v1h-3zM9 6h7v1h-7zM48 6h3v1h-3zM10 7h6v1h-6zM47 7h3v1h-3zM10 8h6v1h-6zM47 8h3v1h-3zM11 9h5v1h-5zM45 9h4v1h-4zM11 10h5v1h-5zM43 10h4v1h-4zM12 11h4v1h-4zM42 11h4v1h-4zM12 12h4v1h-4zM42 12h4v1h-4zM11 13h4v1h-4zM41 13h4v1h-4zM11 14h4v1h-4zM41 14h4v1h-4zM9 15h4v1h-4zM40 15h4v1h-4zM8 16h5v1h-5zM25 16h6v1h-6zM40 16h4v1h-4zM7 17h5v1h-5zM23 17h10v1h-10zM39 17h4v1h-4zM7 18h5v1h-5zM22 18h12v1h-12zM39 18h4v1h-4zM5 19h8v1h-8zM21 19h14v1h-14zM37 19h5v1h-5zM4 20h12v1h-12zM20 20h1v1h-1zM24 20h3v1h-3zM29 20h3v1h-3zM35 20h7v1h-7zM3 21h13v1h-13zM21 21h1v1h-1zM24 21h2v1h-2zM30 21h2v1h-2zM34 21h7v1h-7zM3 22h13v1h-13zM21 22h2v1h-2zM24 22h1v1h-1zM31 22h1v1h-1zM33 22h6v1h-6zM1 23h15v1h-15zM23 23h1v1h-1zM32 23h6v1h-6zM0 24h7v1h-7zM9 24h7v1h-7zM32 24h6v1h-6zM0 25h5v1h-5zM11 25h5v1h-5zM32 25h5v1h-5zM0 26h5v1h-5zM13 26h3v1h-3zM32 26h5v1h-5zM0 27h4v1h-4zM15 27h1v1h-1zM32 27h4v1h-4zM0 28h4v1h-4zM23 28h1v1h-1zM32 28h4v1h-4zM0 29h4v1h-4zM21 29h4v1h-4zM31 29h5v1h-5zM0 30h4v1h-4zM21 30h4v1h-4zM31 30h5v1h-5zM0 31h4v1h-4zM20 31h7v1h-7zM29 31h7v1h-7zM0 32h4v1h-4zM20 32h16v1h-16zM0 33h4v1h-4zM19 33h18v1h-18zM0 34h4v1h-4zM19 34h18v1h-18zM0 35h4v1h-4zM18 35h20v1h-20zM18 36h9v1h-9zM29 36h9v1h-9zM17 37h8v1h-8zM31 37h8v1h-8zM15 38h8v1h-8zM33 38h6v1h-6zM14 39h8v1h-8zM35 39h5v1h-5zM4 40h1v1h-1zM14 40h8v1h-8zM44 40h12v1h-12zM4 41h3v1h-3zM13 41h8v1h-8zM44 41h12v1h-12zM4 42h3v1h-3zM13 42h8v1h-8zM44 42h12v1h-12zM4 43h4v1h-4zM12 43h8v1h-8zM44 43h12v1h-12zM4 44h4v1h-4zM12 44h7v1h-7zM44 44h5v1h-5zM4 45h3v1h-3zM12 45h5v1h-5zM43 45h5v1h-5zM4 46h3v1h-3zM12 46h5v1h-5zM43 46h5v1h-5zM4 47h1v1h-1zM12 47h4v1h-4zM41 47h8v1h-8zM12 48h4v1h-4zM20 48h1v1h-1zM37 48h15v1h-15zM12 49h4v1h-4zM20 49h3v1h-3zM36 49h16v1h-16zM12 50h4v1h-4zM20 50h3v1h-3zM36 50h16v1h-16zM12 51h4v1h-4zM20 51h4v1h-4zM37 51h15v1h-15zM0 52h4v1h-4zM12 52h4v1h-4zM20 52h4v1h-4zM37 52h14v1h-14zM0 53h3v1h-3zM4 53h1v1h-1zM12 53h4v1h-4zM20 53h4v1h-4zM39 53h10v1h-10zM0 54h2v1h-2zM4 54h2v1h-2zM12 54h4v1h-4zM20 54h4v1h-4zM39 54h8v1h-8zM0 55h1v1h-1zM4 55h3v1h-3zM12 55h4v1h-4zM20 55h4v1h-4zM40 55h6v1h-6zM4 56h3v1h-3zM12 56h4v1h-4zM20 56h4v1h-4zM40 56h6v1h-6zM4 57h4v1h-4zM12 57h4v1h-4zM20 57h3v1h-3zM24 57h1v1h-1zM41 57h4v1h-4zM4 58h4v1h-4zM12 58h4v1h-4zM20 58h2v1h-2zM24 58h2v1h-2zM41 58h4v1h-4zM3 59h5v1h-5zM12 59h5v1h-5zM19 59h2v1h-2zM24 59h3v1h-3zM43 59h1v1h-1zM0 60h8v1h-8zM12 60h9v1h-9zM27 60h6v1h-6zM48 60h8v1h-8zM0 61h8v1h-8zM12 61h8v1h-8zM26 61h9v1h-9zM49 61h7v1h-7zM0 62h8v1h-8zM12 62h8v1h-8zM25 62h10v1h-10zM49 62h7v1h-7zM0 63h9v1h-9zM11 63h10v1h-10zM23 63h13v1h-13zM51 63h5v1h-5zM0 64h15v1h-15zM17 64h19v1h-19zM51 64h5v1h-5zM0 65h13v1h-13zM19 65h16v1h-16zM52 65h4v1h-4zM0 66h11v1h-11zM19 66h16v1h-16zM52 66h4v1h-4zM0 67h9v1h-9zM20 67h13v1h-13zM51 67h5v1h-5zM20 68h11v1h-11zM51 68h4v1h-4zM20 69h9v1h-9zM49 69h4v1h-4zM20 70h9v1h-9zM47 70h6v1h-6zM20 71h8v1h-8zM45 71h7v1h-7zM20 72h8v1h-8zM39 72h13v1h-13zM21 73h8v1h-8zM37 73h14v1h-14zM21 74h8v1h-8zM35 74h16v1h-16zM22 75h9v1h-9zM33 75h16v1h-16zM22 76h21v1h-21zM23 77h18v1h-18zM23 78h18v1h-18zM24 79h16v1h-16z"/><path fill="#fcbb9c" d="M0 4h1v1h-1zM0 5h3v1h-3zM0 6h5v1h-5zM0 7h6v1h-6zM0 8h6v1h-6zM0 9h7v1h-7zM0 10h7v1h-7zM0 11h8v1h-8zM0 12h5v1h-5zM0 13h4v1h-4zM0 14h4v1h-4zM0 15h5v1h-5zM0 16h8v1h-8zM49 16h2v1h-2zM0 17h7v1h-7zM47 17h6v1h-6zM0 18h7v1h-7zM47 18h6v1h-6zM0 19h5v1h-5zM46 19h9v1h-9zM46 20h10v1h-10zM45 21h11v1h-11zM43 22h13v1h-13zM42 23h14v1h-14zM42 24h5v1h-5zM49 24h7v1h-7zM41 25h4v1h-4zM51 25h5v1h-5zM41 26h4v1h-4zM51 26h5v1h-5zM40 27h4v1h-4zM52 27h4v1h-4zM40 28h4v1h-4zM52 28h4v1h-4zM40 29h5v1h-5zM51 29h5v1h-5zM40 30h5v1h-5zM51 30h5v1h-5zM40 31h7v1h-7zM49 31h7v1h-7zM40 32h16v1h-16zM41 33h15v1h-15zM41 34h15v1h-15zM43 35h13v1h-13zM0 40h4v1h-4zM0 41h4v1h-4zM0 42h4v1h-4zM0 43h4v1h-4zM0 44h4v1h-4zM0 45h4v1h-4zM0 46h4v1h-4zM0 47h4v1h-4zM49 56h2v1h-2zM48 57h4v1h-4zM48 58h4v1h-4zM48 59h4v1h-4zM0 72h9v1h-9zM0 73h11v1h-11zM0 74h11v1h-11zM0 75h12v1h-12zM1 76h11v1h-11zM3 77h9v1h-9zM3 78h9v1h-9zM4 79h8v1h-8z"/><path fill="#feeadb" d="M5 12h3v1h-3zM4 13h4v1h-4zM4 14h4v1h-4zM5 15h3v1h-3zM47 24h2v1h-2zM45 25h6v1h-6zM45 26h6v1h-6zM44 27h8v1h-8zM44 28h8v1h-8zM45 29h6v1h-6zM45 30h6v1h-6zM47 31h2v1h-2z"/></svg>
<svg class="m" style="left:774.5px;top:273.5px;width:111.7px;height:146px" viewBox="0 0 64 80" preserveAspectRatio="none" shape-rendering="crispEdges"><rect width="64" height="80" fill="#9ab1bc"/><path fill="#fd9c64" d="M0 0h4v1h-4zM16 0h8v1h-8zM28 0h4v1h-4zM40 0h8v1h-8zM0 1h4v1h-4zM15 1h1v1h-1zM17 1h6v1h-6zM29 1h3v1h-3zM39 1h10v1h-10zM0 2h4v1h-4zM14 2h2v1h-2zM18 2h5v1h-5zM29 2h3v1h-3zM39 2h10v1h-10zM0 3h4v1h-4zM13 3h3v1h-3zM19 3h2v1h-2zM31 3h1v1h-1zM37 3h14v1h-14zM12 4h1v1h-1zM16 4h3v1h-3zM36 4h20v1h-20zM12 5h2v1h-2zM16 5h2v1h-2zM37 5h20v1h-20zM12 6h3v1h-3zM16 6h1v1h-1zM37 6h20v1h-20zM12 7h4v1h-4zM39 7h19v1h-19zM12 8h4v1h-4zM45 8h8v1h-8zM55 8h3v1h-3zM12 9h4v1h-4zM47 9h5v1h-5zM56 9h3v1h-3zM12 10h4v1h-4zM49 10h3v1h-3zM56 10h3v1h-3zM12 11h4v1h-4zM50 11h3v1h-3zM55 11h5v1h-5zM12 12h4v1h-4zM50 12h10v1h-10zM12 13h4v1h-4zM51 13h8v1h-8zM12 14h4v1h-4zM51 14h8v1h-8zM12 15h4v1h-4zM52 15h6v1h-6zM12 16h4v1h-4zM32 16h1v1h-1zM52 16h6v1h-6zM12 17h4v1h-4zM32 17h3v1h-3zM53 17h4v1h-4zM12 18h4v1h-4zM32 18h3v1h-3zM53 18h4v1h-4zM12 19h4v1h-4zM32 19h4v1h-4zM55 19h1v1h-1zM12 20h4v1h-4zM41 20h2v1h-2zM12 21h4v1h-4zM39 21h5v1h-5zM12 22h4v1h-4zM39 22h5v1h-5zM12 23h4v1h-4zM37 23h7v1h-7zM12 24h4v1h-4zM36 24h8v1h-8zM11 25h5v1h-5zM36 25h8v1h-8zM11 26h5v1h-5zM36 26h8v1h-8zM10 27h6v1h-6zM36 27h8v1h-8zM10 28h6v1h-6zM28 28h4v1h-4zM36 28h8v1h-8zM9 29h8v1h-8zM28 29h4v1h-4zM36 29h8v1h-8zM9 30h8v1h-8zM28 30h4v1h-4zM36 30h8v1h-8zM8 31h11v1h-11zM29 31h2v1h-2zM36 31h8v1h-8zM0 32h1v1h-1zM8 32h5v1h-5zM15 32h5v1h-5zM36 32h7v1h-7zM0 33h3v1h-3zM8 33h4v1h-4zM16 33h3v1h-3zM36 33h5v1h-5zM0 34h3v1h-3zM8 34h4v1h-4zM16 34h3v1h-3zM36 34h3v1h-3zM0 35h4v1h-4zM8 35h4v1h-4zM16 35h1v1h-1zM36 35h1v1h-1zM0 36h4v1h-4zM8 36h4v1h-4zM28 36h1v1h-1zM0 37h4v1h-4zM8 37h4v1h-4zM29 37h2v1h-2zM0 38h4v1h-4zM8 38h4v1h-4zM29 38h4v1h-4zM0 39h4v1h-4zM8 39h4v1h-4zM31 39h4v1h-4zM31 40h6v1h-6zM48 40h9v1h-9zM32 41h7v1h-7zM48 41h11v1h-11zM32 42h7v1h-7zM48 42h11v1h-11zM31 43h9v1h-9zM48 43h12v1h-12zM29 44h11v1h-11zM51 44h9v1h-9zM27 45h13v1h-13zM52 45h8v1h-8zM27 46h13v1h-13zM52 46h8v1h-8zM25 47h15v1h-15zM51 47h9v1h-9zM24 48h5v1h-5zM31 48h9v1h-9zM51 48h8v1h-8zM23 49h5v1h-5zM32 49h8v1h-8zM49 49h8v1h-8zM23 50h5v1h-5zM32 50h8v1h-8zM49 50h8v1h-8zM21 51h6v1h-6zM31 51h9v1h-9zM48 51h8v1h-8zM20 52h5v1h-5zM31 52h9v1h-9zM20 53h4v1h-4zM29 53h11v1h-11zM20 54h4v1h-4zM29 54h11v1h-11zM20 55h5v1h-5zM27 55h13v1h-13zM20 56h20v1h-20zM63 56h1v1h-1zM20 57h21v1h-21zM61 57h3v1h-3zM20 58h21v1h-21zM59 58h5v1h-5zM20 59h23v1h-23zM57 59h7v1h-7zM20 60h5v1h-5zM27 60h18v1h-18zM56 60h8v1h-8zM20 61h4v1h-4zM28 61h19v1h-19zM57 61h7v1h-7zM20 62h4v1h-4zM28 62h19v1h-19zM57 62h7v1h-7zM20 63h4v1h-4zM28 63h20v1h-20zM58 63h6v1h-6zM8 64h4v1h-4zM20 64h4v1h-4zM28 64h13v1h-13zM43 64h5v1h-5zM58 64h6v1h-6zM8 65h4v1h-4zM20 65h4v1h-4zM28 65h12v1h-12zM44 65h3v1h-3zM59 65h5v1h-5zM8 66h4v1h-4zM20 66h4v1h-4zM28 66h12v1h-12zM44 66h3v1h-3zM59 66h5v1h-5zM9 67h2v1h-2zM20 67h4v1h-4zM28 67h13v1h-13zM43 67h3v1h-3zM60 67h4v1h-4zM37 68h9v1h-9zM39 69h6v1h-6zM39 70h6v1h-6zM41 71h2v1h-2z"/><path fill="#f62a20" d="M4 0h12v1h-12zM24 0h4v1h-4zM4 1h11v1h-11zM16 1h1v1h-1zM23 1h6v1h-6zM4 2h10v1h-10zM16 2h2v1h-2zM23 2h6v1h-6zM4 3h9v1h-9zM16 3h3v1h-3zM21 3h10v1h-10zM13 4h3v1h-3zM19 4h17v1h-17zM14 5h2v1h-2zM18 5h19v1h-19zM15 6h1v1h-1zM17 6h20v1h-20zM16 7h23v1h-23zM16 8h24v1h-24zM53 8h2v1h-2zM16 9h24v1h-24zM52 9h4v1h-4zM16 10h24v1h-24zM52 10h4v1h-4zM16 11h24v1h-24zM53 11h2v1h-2zM25 12h15v1h-15zM27 13h13v1h-13zM27 14h13v1h-13zM28 15h12v1h-12zM33 16h7v1h-7zM35 17h4v1h-4zM35 18h4v1h-4zM36 19h1v1h-1zM13 32h2v1h-2zM12 33h4v1h-4zM12 34h4v1h-4zM12 35h4v1h-4zM12 36h4v1h-4zM27 36h1v1h-1zM12 37h4v1h-4zM25 37h4v1h-4zM12 38h4v1h-4zM25 38h4v1h-4zM12 39h4v1h-4zM24 39h7v1h-7zM24 40h7v1h-7zM24 41h8v1h-8zM24 42h8v1h-8zM24 43h7v1h-7zM24 44h5v1h-5zM40 44h11v1h-11zM24 45h3v1h-3zM40 45h12v1h-12zM24 46h3v1h-3zM40 46h12v1h-12zM24 47h1v1h-1zM40 47h11v1h-11zM29 48h2v1h-2zM40 48h11v1h-11zM28 49h4v1h-4zM40 49h9v1h-9zM28 50h4v1h-4zM40 50h9v1h-9zM27 51h4v1h-4zM40 51h8v1h-8zM25 52h6v1h-6zM24 53h5v1h-5zM24 54h5v1h-5zM25 55h2v1h-2zM25 60h2v1h-2zM24 61h4v1h-4zM24 62h4v1h-4zM24 63h4v1h-4zM24 64h4v1h-4zM41 64h2v1h-2zM24 65h4v1h-4zM40 65h4v1h-4zM24 66h4v1h-4zM40 66h4v1h-4zM24 67h4v1h-4zM41 67h2v1h-2z"/><path fill="#ffffc0" d="M32 0h8v1h-8zM48 0h4v1h-4zM32 1h7v1h-7zM49 1h3v1h-3zM32 2h7v1h-7zM49 2h3v1h-3zM32 3h5v1h-5zM51 3h1v1h-1zM56 4h1v1h-1zM57 5h2v1h-2zM57 6h4v1h-4zM58 7h5v1h-5zM40 8h4v1h-4zM58 8h6v1h-6zM40 9h4v1h-4zM59 9h5v1h-5zM40 10h4v1h-4zM59 10h5v1h-5zM40 11h4v1h-4zM60 11h4v1h-4zM16 12h4v1h-4zM24 12h1v1h-1zM40 12h4v1h-4zM60 12h4v1h-4zM16 13h4v1h-4zM24 13h3v1h-3zM40 13h4v1h-4zM59 13h5v1h-5zM16 14h4v1h-4zM24 14h3v1h-3zM40 14h4v1h-4zM59 14h5v1h-5zM16 15h4v1h-4zM24 15h4v1h-4zM40 15h4v1h-4zM58 15h6v1h-6zM11 16h1v1h-1zM16 16h4v1h-4zM40 16h4v1h-4zM58 16h6v1h-6zM9 17h3v1h-3zM16 17h4v1h-4zM39 17h6v1h-6zM57 17h7v1h-7zM9 18h3v1h-3zM16 18h4v1h-4zM39 18h6v1h-6zM57 18h7v1h-7zM8 19h4v1h-4zM16 19h4v1h-4zM37 19h9v1h-9zM56 19h8v1h-8zM8 20h4v1h-4zM16 20h4v1h-4zM32 20h9v1h-9zM43 20h3v1h-3zM56 20h8v1h-8zM8 21h4v1h-4zM16 21h5v1h-5zM33 21h6v1h-6zM44 21h3v1h-3zM57 21h7v1h-7zM8 22h4v1h-4zM16 22h5v1h-5zM33 22h6v1h-6zM44 22h3v1h-3zM57 22h7v1h-7zM8 23h4v1h-4zM16 23h7v1h-7zM35 23h2v1h-2zM44 23h4v1h-4zM59 23h5v1h-5zM8 24h4v1h-4zM16 24h9v1h-9zM44 24h4v1h-4zM7 25h4v1h-4zM16 25h11v1h-11zM44 25h3v1h-3zM7 26h4v1h-4zM16 26h11v1h-11zM44 26h3v1h-3zM5 27h5v1h-5zM16 27h12v1h-12zM44 27h1v1h-1zM0 28h10v1h-10zM23 28h5v1h-5zM32 28h4v1h-4zM0 29h9v1h-9zM24 29h4v1h-4zM32 29h4v1h-4zM0 30h9v1h-9zM24 30h4v1h-4zM32 30h4v1h-4zM0 31h8v1h-8zM23 31h6v1h-6zM31 31h5v1h-5zM1 32h7v1h-7zM20 32h13v1h-13zM43 32h1v1h-1zM3 33h5v1h-5zM19 33h13v1h-13zM41 33h3v1h-3zM3 34h5v1h-5zM19 34h13v1h-13zM39 34h5v1h-5zM4 35h4v1h-4zM17 35h16v1h-16zM37 35h7v1h-7zM16 36h11v1h-11zM29 36h15v1h-15zM16 37h9v1h-9zM31 37h14v1h-14zM16 38h9v1h-9zM33 38h12v1h-12zM16 39h8v1h-8zM35 39h12v1h-12zM0 40h4v1h-4zM8 40h4v1h-4zM17 40h7v1h-7zM37 40h11v1h-11zM0 41h3v1h-3zM8 41h4v1h-4zM19 41h5v1h-5zM39 41h9v1h-9zM0 42h3v1h-3zM8 42h4v1h-4zM21 42h3v1h-3zM39 42h9v1h-9zM0 43h1v1h-1zM8 43h4v1h-4zM23 43h1v1h-1zM40 43h8v1h-8zM8 44h4v1h-4zM7 45h5v1h-5zM7 46h5v1h-5zM5 47h7v1h-7zM5 48h7v1h-7zM59 48h1v1h-1zM4 49h8v1h-8zM57 49h2v1h-2zM4 50h8v1h-8zM57 50h2v1h-2zM5 51h7v1h-7zM56 51h1v1h-1zM5 52h7v1h-7zM40 52h4v1h-4zM7 53h5v1h-5zM40 53h4v1h-4zM7 54h5v1h-5zM40 54h4v1h-4zM9 55h2v1h-2zM40 55h4v1h-4zM0 56h3v1h-3zM40 56h4v1h-4zM0 57h4v1h-4zM41 57h3v1h-3zM0 58h4v1h-4zM41 58h3v1h-3zM0 59h3v1h-3zM43 59h1v1h-1zM16 60h4v1h-4zM52 60h4v1h-4zM15 61h5v1h-5zM51 61h1v1h-1zM53 61h4v1h-4zM15 62h5v1h-5zM50 62h2v1h-2zM54 62h3v1h-3zM13 63h7v1h-7zM49 63h3v1h-3zM55 63h3v1h-3zM7 64h1v1h-1zM12 64h8v1h-8zM48 64h4v1h-4zM55 64h3v1h-3zM5 65h3v1h-3zM12 65h8v1h-8zM47 65h5v1h-5zM56 65h3v1h-3zM5 66h3v1h-3zM12 66h8v1h-8zM47 66h5v1h-5zM56 66h3v1h-3zM4 67h5v1h-5zM11 67h9v1h-9zM46 67h5v1h-5zM56 67h4v1h-4zM4 68h11v1h-11zM24 68h8v1h-8zM36 68h1v1h-1zM46 68h5v1h-5zM5 69h8v1h-8zM25 69h6v1h-6zM36 69h3v1h-3zM45 69h4v1h-4zM5 70h6v1h-6zM25 70h6v1h-6zM36 70h3v1h-3zM45 70h2v1h-2zM7 71h2v1h-2zM27 71h2v1h-2zM35 71h6v1h-6zM43 71h3v1h-3zM17 72h2v1h-2zM33 72h13v1h-13zM15 73h5v1h-5zM32 73h13v1h-13zM15 74h5v1h-5zM32 74h11v1h-11zM14 75h6v1h-6zM33 75h9v1h-9zM0 76h5v1h-5zM14 76h6v1h-6zM27 76h2v1h-2zM35 76h7v1h-7zM0 77h7v1h-7zM13 77h7v1h-7zM25 77h6v1h-6zM36 77h5v1h-5zM0 78h7v1h-7zM13 78h7v1h-7zM25 78h6v1h-6zM36 78h5v1h-5zM0 79h8v1h-8zM12 79h8v1h-8zM24 79h8v1h-8zM36 79h4v1h-4z"/><path fill="#1a72bb" d="M0 4h12v1h-12zM0 5h12v1h-12zM0 6h12v1h-12zM0 7h12v1h-12zM0 8h12v1h-12zM0 9h12v1h-12zM0 10h12v1h-12zM0 11h12v1h-12zM0 12h12v1h-12zM0 13h12v1h-12zM0 14h12v1h-12zM0 15h12v1h-12zM0 16h11v1h-11zM24 16h4v1h-4zM0 17h9v1h-9zM24 17h4v1h-4zM0 18h9v1h-9zM24 18h4v1h-4zM0 19h8v1h-8zM25 19h2v1h-2zM0 20h7v1h-7zM0 21h5v1h-5zM0 22h3v1h-3zM0 23h1v1h-1zM17 44h2v1h-2zM16 45h4v1h-4zM16 46h4v1h-4zM16 47h4v1h-4zM16 48h4v1h-4zM16 49h4v1h-4zM16 50h4v1h-4zM16 51h4v1h-4zM16 52h4v1h-4zM52 52h4v1h-4zM16 53h4v1h-4zM51 53h5v1h-5zM16 54h4v1h-4zM51 54h5v1h-5zM16 55h4v1h-4zM49 55h7v1h-7zM16 56h4v1h-4zM49 56h7v1h-7zM16 57h4v1h-4zM48 57h8v1h-8zM16 58h4v1h-4zM48 58h8v1h-8zM16 59h4v1h-4zM49 59h7v1h-7zM55 68h5v1h-5zM53 69h7v1h-7zM51 70h9v1h-9zM50 71h10v1h-10zM50 72h10v1h-10zM49 73h11v1h-11zM47 74h13v1h-13zM46 75h14v1h-14zM46 76h14v1h-14zM45 77h15v1h-15zM45 78h15v1h-15zM44 79h16v1h-16z"/></svg>
<svg class="m" style="left:7.5px;top:557.5px;width:94px;height:147.5px" viewBox="0 0 56 80" preserveAspectRatio="none" shape-rendering="crispEdges"><rect width="56" height="80" fill="#0a7a8a"/><path fill="#ffffc4" d="M28 0h8v1h-8zM29 1h7v1h-7zM29 2h7v1h-7zM31 3h5v1h-5zM0 4h12v1h-12zM41 4h3v1h-3zM0 5h12v1h-12zM40 5h4v1h-4zM0 6h12v1h-12zM40 6h4v1h-4zM0 7h12v1h-12zM41 7h3v1h-3zM1 8h11v1h-11zM16 8h8v1h-8zM3 9h9v1h-9zM16 9h8v1h-8zM5 10h7v1h-7zM16 10h8v1h-8zM6 11h6v1h-6zM16 11h8v1h-8zM6 12h6v1h-6zM7 13h5v1h-5zM7 14h5v1h-5zM8 15h4v1h-4zM8 16h4v1h-4zM16 16h4v1h-4zM32 16h4v1h-4zM8 17h4v1h-4zM17 17h4v1h-4zM32 17h4v1h-4zM8 18h4v1h-4zM17 18h4v1h-4zM32 18h4v1h-4zM8 19h4v1h-4zM18 19h4v1h-4zM32 19h4v1h-4zM0 20h1v1h-1zM8 20h4v1h-4zM18 20h4v1h-4zM32 20h4v1h-4zM0 21h3v1h-3zM9 21h3v1h-3zM19 21h4v1h-4zM32 21h4v1h-4zM0 22h3v1h-3zM9 22h3v1h-3zM19 22h6v1h-6zM32 22h4v1h-4zM0 23h4v1h-4zM11 23h1v1h-1zM20 23h7v1h-7zM32 23h4v1h-4zM0 24h4v1h-4zM23 24h5v1h-5zM32 24h4v1h-4zM0 25h5v1h-5zM24 25h4v1h-4zM32 25h4v1h-4zM0 26h5v1h-5zM24 26h4v1h-4zM32 26h4v1h-4zM0 27h6v1h-6zM23 27h6v1h-6zM31 27h5v1h-5zM1 28h5v1h-5zM21 28h15v1h-15zM3 29h4v1h-4zM20 29h16v1h-16zM3 30h4v1h-4zM20 30h16v1h-16zM4 31h4v1h-4zM21 31h15v1h-15zM4 32h4v1h-4zM21 32h14v1h-14zM4 33h4v1h-4zM23 33h10v1h-10zM4 34h4v1h-4zM23 34h8v1h-8zM4 35h4v1h-4zM24 35h5v1h-5zM4 36h4v1h-4zM4 37h5v1h-5zM4 38h5v1h-5zM4 39h7v1h-7zM4 40h12v1h-12zM53 40h3v1h-3zM4 41h12v1h-12zM52 41h4v1h-4zM4 42h12v1h-12zM52 42h4v1h-4zM4 43h12v1h-12zM53 43h3v1h-3zM7 44h9v1h-9zM8 45h8v1h-8zM8 46h8v1h-8zM7 47h9v1h-9zM0 48h9v1h-9zM11 48h5v1h-5zM24 48h1v1h-1zM0 49h7v1h-7zM12 49h4v1h-4zM24 49h3v1h-3zM0 50h7v1h-7zM12 50h4v1h-4zM24 50h3v1h-3zM0 51h6v1h-6zM12 51h4v1h-4zM24 51h4v1h-4zM0 52h6v1h-6zM12 52h4v1h-4zM24 52h4v1h-4zM0 53h5v1h-5zM12 53h5v1h-5zM23 53h4v1h-4zM0 54h5v1h-5zM12 54h5v1h-5zM23 54h4v1h-4zM0 55h4v1h-4zM12 55h7v1h-7zM21 55h5v1h-5zM0 56h4v1h-4zM12 56h14v1h-14zM51 56h1v1h-1zM0 57h5v1h-5zM11 57h14v1h-14zM49 57h3v1h-3zM0 58h5v1h-5zM11 58h14v1h-14zM49 58h3v1h-3zM0 59h7v1h-7zM9 59h15v1h-15zM48 59h4v1h-4zM0 60h24v1h-24zM48 60h4v1h-4zM0 61h24v1h-24zM48 61h5v1h-5zM0 62h24v1h-24zM48 62h5v1h-5zM0 63h24v1h-24zM48 63h7v1h-7zM0 64h7v1h-7zM13 64h10v1h-10zM35 64h6v1h-6zM48 64h8v1h-8zM0 65h5v1h-5zM15 65h6v1h-6zM33 65h10v1h-10zM48 65h8v1h-8zM0 66h3v1h-3zM15 66h6v1h-6zM33 66h10v1h-10zM48 66h8v1h-8zM0 67h1v1h-1zM16 67h4v1h-4zM32 67h13v1h-13zM47 67h9v1h-9zM39 68h10v1h-10zM40 69h8v1h-8zM40 70h8v1h-8zM39 71h10v1h-10zM20 72h4v1h-4zM39 72h2v1h-2zM43 72h6v1h-6zM20 73h5v1h-5zM37 73h2v1h-2zM45 73h6v1h-6zM20 74h5v1h-5zM35 74h4v1h-4zM45 74h6v1h-6zM20 75h7v1h-7zM33 75h5v1h-5zM46 75h6v1h-6zM21 76h17v1h-17zM46 76h6v1h-6zM23 77h14v1h-14zM47 77h5v1h-5zM23 78h14v1h-14zM47 78h5v1h-5zM24 79h12v1h-12zM48 79h4v1h-4z"/><path fill="#80c4ac" d="M36 0h8v1h-8zM52 0h4v1h-4zM36 1h8v1h-8zM53 1h3v1h-3zM36 2h8v1h-8zM53 2h3v1h-3zM36 3h8v1h-8zM55 3h1v1h-1zM12 4h1v1h-1zM36 4h5v1h-5zM12 5h3v1h-3zM37 5h3v1h-3zM12 6h3v1h-3zM37 6h3v1h-3zM12 7h4v1h-4zM38 7h3v1h-3zM12 8h4v1h-4zM24 8h5v1h-5zM38 8h6v1h-6zM12 9h4v1h-4zM24 9h7v1h-7zM39 9h6v1h-6zM12 10h4v1h-4zM24 10h9v1h-9zM39 10h6v1h-6zM12 11h4v1h-4zM24 11h10v1h-10zM41 11h6v1h-6zM12 12h4v1h-4zM29 12h5v1h-5zM41 12h10v1h-10zM12 13h4v1h-4zM31 13h4v1h-4zM43 13h9v1h-9zM12 14h4v1h-4zM31 14h4v1h-4zM43 14h9v1h-9zM12 15h4v1h-4zM32 15h4v1h-4zM45 15h6v1h-6zM20 24h3v1h-3zM19 25h5v1h-5zM19 26h5v1h-5zM17 27h6v1h-6zM0 28h1v1h-1zM12 28h9v1h-9zM0 29h3v1h-3zM12 29h8v1h-8zM0 30h3v1h-3zM12 30h8v1h-8zM0 31h4v1h-4zM12 31h9v1h-9zM0 32h4v1h-4zM12 32h9v1h-9zM35 32h2v1h-2zM0 33h4v1h-4zM12 33h11v1h-11zM33 33h6v1h-6zM0 34h4v1h-4zM12 34h11v1h-11zM31 34h10v1h-10zM0 35h4v1h-4zM12 35h12v1h-12zM29 35h14v1h-14zM12 36h12v1h-12zM28 36h28v1h-28zM12 37h12v1h-12zM28 37h28v1h-28zM12 38h12v1h-12zM28 38h28v1h-28zM12 39h13v1h-13zM27 39h29v1h-29zM17 40h36v1h-36zM19 41h33v1h-33zM21 42h31v1h-31zM22 43h31v1h-31zM4 44h3v1h-3zM22 44h21v1h-21zM49 44h7v1h-7zM4 45h4v1h-4zM23 45h18v1h-18zM51 45h5v1h-5zM4 46h4v1h-4zM23 46h18v1h-18zM51 46h5v1h-5zM4 47h3v1h-3zM24 47h16v1h-16zM52 47h4v1h-4zM25 48h15v1h-15zM52 48h4v1h-4zM27 49h14v1h-14zM51 49h5v1h-5zM27 50h14v1h-14zM51 50h5v1h-5zM28 51h15v1h-15zM49 51h7v1h-7zM28 52h27v1h-27zM27 53h26v1h-26zM27 54h26v1h-26zM26 55h26v1h-26zM26 56h25v1h-25zM25 57h24v1h-24zM25 58h24v1h-24zM24 59h24v1h-24zM31 60h17v1h-17zM32 61h16v1h-16zM32 62h16v1h-16zM31 63h17v1h-17zM7 64h1v1h-1zM12 64h1v1h-1zM23 64h1v1h-1zM31 64h4v1h-4zM41 64h7v1h-7zM5 65h2v1h-2zM13 65h2v1h-2zM21 65h3v1h-3zM29 65h4v1h-4zM43 65h5v1h-5zM3 66h4v1h-4zM13 66h2v1h-2zM21 66h3v1h-3zM29 66h4v1h-4zM43 66h5v1h-5zM1 67h5v1h-5zM15 67h1v1h-1zM20 67h4v1h-4zM28 67h4v1h-4zM45 67h2v1h-2zM0 68h6v1h-6zM20 68h4v1h-4zM0 69h5v1h-5zM20 69h4v1h-4zM0 70h3v1h-3zM20 70h4v1h-4zM0 71h1v1h-1zM20 71h4v1h-4zM41 72h2v1h-2zM39 73h6v1h-6zM39 74h6v1h-6zM38 75h8v1h-8zM20 76h1v1h-1zM38 76h8v1h-8zM20 77h3v1h-3zM37 77h10v1h-10zM20 78h3v1h-3zM37 78h10v1h-10zM20 79h4v1h-4zM36 79h12v1h-12z"/><path fill="#e0a464" d="M0 8h1v1h-1zM0 9h3v1h-3zM0 10h5v1h-5zM0 11h6v1h-6zM0 12h6v1h-6zM16 12h4v1h-4zM24 12h5v1h-5zM0 13h7v1h-7zM16 13h4v1h-4zM25 13h6v1h-6zM0 14h7v1h-7zM16 14h4v1h-4zM25 14h6v1h-6zM0 15h8v1h-8zM16 15h4v1h-4zM26 15h6v1h-6zM0 16h8v1h-8zM26 16h6v1h-6zM0 17h8v1h-8zM27 17h5v1h-5zM0 18h8v1h-8zM27 18h5v1h-5zM0 19h8v1h-8zM28 19h4v1h-4zM1 20h7v1h-7zM28 20h4v1h-4zM3 21h6v1h-6zM28 21h4v1h-4zM3 22h6v1h-6zM28 22h4v1h-4zM4 23h7v1h-7zM28 23h4v1h-4zM4 24h8v1h-8zM28 24h4v1h-4zM5 25h7v1h-7zM28 25h4v1h-4zM5 26h7v1h-7zM28 26h4v1h-4zM6 27h6v1h-6zM29 27h2v1h-2zM6 28h6v1h-6zM7 29h5v1h-5zM7 30h5v1h-5zM8 31h4v1h-4zM8 32h4v1h-4zM8 33h4v1h-4zM8 34h4v1h-4zM8 35h4v1h-4zM8 36h4v1h-4zM9 37h3v1h-3zM9 38h3v1h-3zM11 39h1v1h-1zM16 40h1v1h-1zM16 41h3v1h-3zM16 42h5v1h-5zM16 43h6v1h-6zM16 44h6v1h-6zM16 45h7v1h-7zM16 46h7v1h-7zM16 47h8v1h-8zM9 48h2v1h-2zM16 48h8v1h-8zM7 49h5v1h-5zM16 49h8v1h-8zM7 50h5v1h-5zM16 50h8v1h-8zM6 51h6v1h-6zM16 51h8v1h-8zM6 52h6v1h-6zM16 52h8v1h-8zM55 52h1v1h-1zM5 53h7v1h-7zM17 53h6v1h-6zM53 53h3v1h-3zM5 54h7v1h-7zM17 54h6v1h-6zM53 54h3v1h-3zM4 55h8v1h-8zM19 55h2v1h-2zM52 55h4v1h-4zM4 56h7v1h-7zM52 56h4v1h-4zM5 57h4v1h-4zM52 57h4v1h-4zM5 58h4v1h-4zM52 58h4v1h-4zM7 59h1v1h-1zM52 59h4v1h-4zM52 60h4v1h-4zM53 61h3v1h-3zM53 62h3v1h-3zM55 63h1v1h-1zM24 68h8v1h-8zM36 68h3v1h-3zM49 68h7v1h-7zM24 69h7v1h-7zM36 69h4v1h-4zM48 69h8v1h-8zM24 70h7v1h-7zM36 70h4v1h-4zM48 70h8v1h-8zM24 71h5v1h-5zM35 71h4v1h-4zM49 71h7v1h-7zM24 72h5v1h-5zM35 72h4v1h-4zM49 72h7v1h-7zM25 73h3v1h-3zM33 73h4v1h-4zM51 73h5v1h-5zM25 74h3v1h-3zM33 74h2v1h-2zM51 74h5v1h-5zM27 75h1v1h-1zM32 75h1v1h-1zM52 75h4v1h-4zM52 76h4v1h-4zM52 77h4v1h-4zM52 78h4v1h-4zM52 79h4v1h-4z"/><path fill="#b05510" d="M20 12h4v1h-4zM20 13h5v1h-5zM20 14h5v1h-5zM20 15h6v1h-6zM20 16h6v1h-6zM21 17h6v1h-6zM21 18h6v1h-6zM22 19h6v1h-6zM22 20h6v1h-6zM23 21h5v1h-5zM25 22h3v1h-3zM27 23h1v1h-1zM11 56h1v1h-1zM9 57h2v1h-2zM9 58h2v1h-2zM8 59h1v1h-1zM32 68h4v1h-4zM31 69h5v1h-5zM31 70h5v1h-5zM29 71h6v1h-6zM29 72h6v1h-6zM28 73h5v1h-5zM28 74h5v1h-5zM28 75h4v1h-4z"/></svg>
<svg class="m" style="left:125.5px;top:557.5px;width:98.3px;height:147.5px" viewBox="0 0 56 80" preserveAspectRatio="none" shape-rendering="crispEdges"><rect width="56" height="80" fill="#b05510"/><path fill="#80c4ac" d="M0 0h4v1h-4zM16 0h4v1h-4zM48 0h8v1h-8zM0 1h4v1h-4zM16 1h4v1h-4zM48 1h8v1h-8zM0 2h4v1h-4zM16 2h4v1h-4zM48 2h8v1h-8zM0 3h4v1h-4zM16 3h4v1h-4zM48 3h8v1h-8zM8 4h4v1h-4zM48 4h8v1h-8zM8 5h4v1h-4zM47 5h9v1h-9zM8 6h4v1h-4zM47 6h9v1h-9zM8 7h4v1h-4zM45 7h11v1h-11zM8 8h4v1h-4zM44 8h11v1h-11zM8 9h4v1h-4zM43 9h10v1h-10zM8 10h4v1h-4zM43 10h8v1h-8zM8 11h4v1h-4zM41 11h9v1h-9zM40 12h10v1h-10zM40 13h9v1h-9zM40 14h7v1h-7zM40 15h6v1h-6zM40 16h6v1h-6zM55 16h1v1h-1zM39 17h6v1h-6zM53 17h3v1h-3zM39 18h4v1h-4zM53 18h3v1h-3zM38 19h4v1h-4zM52 19h4v1h-4zM0 20h4v1h-4zM16 20h4v1h-4zM38 20h4v1h-4zM52 20h4v1h-4zM0 21h3v1h-3zM16 21h5v1h-5zM37 21h4v1h-4zM52 21h4v1h-4zM0 22h3v1h-3zM16 22h5v1h-5zM37 22h2v1h-2zM52 22h4v1h-4zM0 23h1v1h-1zM16 23h7v1h-7zM36 23h1v1h-1zM52 23h4v1h-4zM16 24h8v1h-8zM52 24h4v1h-4zM16 25h8v1h-8zM52 25h4v1h-4zM16 26h8v1h-8zM52 26h4v1h-4zM16 27h8v1h-8zM52 27h4v1h-4zM52 28h4v1h-4zM52 29h4v1h-4zM52 30h4v1h-4zM52 31h4v1h-4zM52 32h4v1h-4zM51 33h5v1h-5zM51 34h5v1h-5zM50 35h6v1h-6zM0 36h4v1h-4zM36 36h5v1h-5zM50 36h5v1h-5zM0 37h4v1h-4zM36 37h7v1h-7zM49 37h4v1h-4zM0 38h4v1h-4zM36 38h7v1h-7zM49 38h4v1h-4zM0 39h4v1h-4zM36 39h8v1h-8zM48 39h4v1h-4zM19 44h1v1h-1zM17 45h3v1h-3zM17 46h3v1h-3zM16 47h4v1h-4zM0 48h4v1h-4zM16 48h4v1h-4zM0 49h3v1h-3zM16 49h4v1h-4zM0 50h3v1h-3zM16 50h4v1h-4zM0 51h1v1h-1zM16 51h4v1h-4zM16 52h4v1h-4zM47 52h5v1h-5zM16 53h4v1h-4zM45 53h7v1h-7zM16 54h4v1h-4zM45 54h7v1h-7zM16 55h4v1h-4zM44 55h8v1h-8zM16 56h4v1h-4zM44 56h7v1h-7zM17 57h3v1h-3zM44 57h5v1h-5zM17 58h3v1h-3zM44 58h5v1h-5zM19 59h1v1h-1zM44 59h4v1h-4zM13 64h2v1h-2zM52 64h4v1h-4zM11 65h6v1h-6zM52 65h4v1h-4zM11 66h6v1h-6zM52 66h4v1h-4zM9 67h9v1h-9zM52 67h4v1h-4zM0 68h18v1h-18zM52 68h4v1h-4zM0 69h19v1h-19zM51 69h5v1h-5zM0 70h19v1h-19zM51 70h5v1h-5zM0 71h20v1h-20zM49 71h7v1h-7zM15 72h5v1h-5zM48 72h5v1h-5zM16 73h4v1h-4zM47 73h4v1h-4zM16 74h4v1h-4zM47 74h4v1h-4zM15 75h5v1h-5zM45 75h4v1h-4zM0 76h1v1h-1zM15 76h5v1h-5zM39 76h10v1h-10zM55 76h1v1h-1zM0 77h3v1h-3zM13 77h7v1h-7zM37 77h11v1h-11zM53 77h3v1h-3zM0 78h3v1h-3zM13 78h7v1h-7zM37 78h11v1h-11zM53 78h3v1h-3zM0 79h4v1h-4zM12 79h8v1h-8zM36 79h12v1h-12zM52 79h4v1h-4z"/><path fill="#ffffc4" d="M4 0h4v1h-4zM12 0h4v1h-4zM20 0h4v1h-4zM44 0h4v1h-4zM4 1h4v1h-4zM12 1h4v1h-4zM20 1h4v1h-4zM45 1h3v1h-3zM4 2h4v1h-4zM12 2h4v1h-4zM20 2h4v1h-4zM45 2h3v1h-3zM4 3h4v1h-4zM12 3h4v1h-4zM20 3h4v1h-4zM47 3h1v1h-1zM12 4h4v1h-4zM12 5h4v1h-4zM12 6h4v1h-4zM12 7h4v1h-4zM40 8h4v1h-4zM40 9h3v1h-3zM40 10h3v1h-3zM40 11h1v1h-1zM8 12h4v1h-4zM8 13h4v1h-4zM8 14h4v1h-4zM8 15h4v1h-4zM8 16h4v1h-4zM27 16h1v1h-1zM39 16h1v1h-1zM7 17h4v1h-4zM12 17h1v1h-1zM25 17h2v1h-2zM37 17h2v1h-2zM7 18h3v1h-3zM12 18h2v1h-2zM23 18h4v1h-4zM35 18h4v1h-4zM5 19h4v1h-4zM12 19h3v1h-3zM21 19h5v1h-5zM34 19h4v1h-4zM4 20h5v1h-5zM12 20h4v1h-4zM20 20h6v1h-6zM34 20h4v1h-4zM3 21h4v1h-4zM12 21h4v1h-4zM21 21h4v1h-4zM33 21h4v1h-4zM3 22h4v1h-4zM12 22h4v1h-4zM21 22h4v1h-4zM33 22h4v1h-4zM1 23h5v1h-5zM13 23h3v1h-3zM23 23h1v1h-1zM32 23h4v1h-4zM0 24h6v1h-6zM32 24h4v1h-4zM0 25h5v1h-5zM32 25h4v1h-4zM0 26h5v1h-5zM32 26h4v1h-4zM0 27h4v1h-4zM32 27h4v1h-4zM0 28h4v1h-4zM16 28h8v1h-8zM32 28h4v1h-4zM0 29h4v1h-4zM16 29h9v1h-9zM31 29h5v1h-5zM0 30h4v1h-4zM16 30h9v1h-9zM31 30h5v1h-5zM0 31h4v1h-4zM16 31h11v1h-11zM29 31h7v1h-7zM0 32h4v1h-4zM16 32h20v1h-20zM0 33h4v1h-4zM16 33h20v1h-20zM0 34h4v1h-4zM16 34h20v1h-20zM0 35h4v1h-4zM16 35h20v1h-20zM16 36h7v1h-7zM29 36h7v1h-7zM55 36h1v1h-1zM15 37h6v1h-6zM31 37h5v1h-5zM53 37h3v1h-3zM15 38h6v1h-6zM31 38h5v1h-5zM53 38h3v1h-3zM14 39h6v1h-6zM32 39h4v1h-4zM52 39h4v1h-4zM14 40h6v1h-6zM13 41h7v1h-7zM13 42h7v1h-7zM12 43h8v1h-8zM4 44h4v1h-4zM12 44h7v1h-7zM4 45h4v1h-4zM12 45h5v1h-5zM4 46h4v1h-4zM12 46h5v1h-5zM4 47h4v1h-4zM12 47h4v1h-4zM12 48h4v1h-4zM45 48h2v1h-2zM12 49h4v1h-4zM43 49h5v1h-5zM12 50h4v1h-4zM43 50h5v1h-5zM12 51h4v1h-4zM42 51h6v1h-6zM12 52h4v1h-4zM42 52h5v1h-5zM52 52h4v1h-4zM12 53h4v1h-4zM41 53h4v1h-4zM52 53h4v1h-4zM12 54h4v1h-4zM41 54h4v1h-4zM52 54h4v1h-4zM12 55h4v1h-4zM40 55h4v1h-4zM52 55h4v1h-4zM5 56h2v1h-2zM12 56h4v1h-4zM40 56h4v1h-4zM52 56h4v1h-4zM4 57h4v1h-4zM12 57h5v1h-5zM40 57h4v1h-4zM51 57h5v1h-5zM4 58h4v1h-4zM12 58h5v1h-5zM40 58h4v1h-4zM51 58h5v1h-5zM5 59h2v1h-2zM11 59h8v1h-8zM40 59h4v1h-4zM49 59h7v1h-7zM11 60h9v1h-9zM28 60h4v1h-4zM48 60h7v1h-7zM9 61h12v1h-12zM27 61h5v1h-5zM48 61h5v1h-5zM9 62h12v1h-12zM27 62h5v1h-5zM48 62h5v1h-5zM7 63h16v1h-16zM25 63h7v1h-7zM48 63h4v1h-4zM0 64h13v1h-13zM15 64h17v1h-17zM48 64h4v1h-4zM0 65h11v1h-11zM17 65h15v1h-15zM48 65h4v1h-4zM0 66h11v1h-11zM17 66h15v1h-15zM48 66h4v1h-4zM0 67h9v1h-9zM18 67h14v1h-14zM48 67h4v1h-4zM18 68h9v1h-9zM48 68h4v1h-4zM19 69h6v1h-6zM48 69h3v1h-3zM19 70h6v1h-6zM48 70h3v1h-3zM20 71h4v1h-4zM48 71h1v1h-1zM20 72h4v1h-4zM39 72h1v1h-1zM20 73h5v1h-5zM37 73h3v1h-3zM20 74h5v1h-5zM35 74h5v1h-5zM20 75h7v1h-7zM33 75h7v1h-7zM20 76h19v1h-19zM20 77h17v1h-17zM20 78h17v1h-17zM20 79h16v1h-16z"/><path fill="#e0a464" d="M8 0h4v1h-4zM24 0h4v1h-4zM36 0h8v1h-8zM8 1h4v1h-4zM24 1h3v1h-3zM37 1h8v1h-8zM8 2h4v1h-4zM24 2h3v1h-3zM37 2h8v1h-8zM8 3h4v1h-4zM24 3h1v1h-1zM38 3h9v1h-9zM16 4h4v1h-4zM38 4h10v1h-10zM16 5h3v1h-3zM20 5h1v1h-1zM39 5h8v1h-8zM16 6h2v1h-2zM20 6h2v1h-2zM39 6h8v1h-8zM16 7h1v1h-1zM20 7h3v1h-3zM40 7h5v1h-5zM17 8h6v1h-6zM18 9h7v1h-7zM19 10h6v1h-6zM20 11h6v1h-6zM20 12h6v1h-6zM39 12h1v1h-1zM20 13h7v1h-7zM37 13h3v1h-3zM20 14h7v1h-7zM35 14h5v1h-5zM20 15h8v1h-8zM34 15h6v1h-6zM12 16h1v1h-1zM20 16h7v1h-7zM34 16h5v1h-5zM11 17h1v1h-1zM13 17h2v1h-2zM20 17h5v1h-5zM33 17h4v1h-4zM10 18h2v1h-2zM14 18h1v1h-1zM20 18h3v1h-3zM31 18h4v1h-4zM9 19h3v1h-3zM15 19h1v1h-1zM20 19h1v1h-1zM29 19h5v1h-5zM9 20h3v1h-3zM29 20h5v1h-5zM7 21h5v1h-5zM28 21h5v1h-5zM7 22h5v1h-5zM28 22h5v1h-5zM6 23h7v1h-7zM29 23h3v1h-3zM6 24h3v1h-3zM11 24h5v1h-5zM5 25h2v1h-2zM13 25h3v1h-3zM5 26h2v1h-2zM13 26h3v1h-3zM4 27h1v1h-1zM15 27h1v1h-1zM24 28h1v1h-1zM25 29h2v1h-2zM25 30h2v1h-2zM27 31h1v1h-1zM23 36h1v1h-1zM28 36h1v1h-1zM21 37h3v1h-3zM29 37h2v1h-2zM21 38h3v1h-3zM29 38h2v1h-2zM20 39h4v1h-4zM31 39h1v1h-1zM4 40h1v1h-1zM20 40h4v1h-4zM40 40h8v1h-8zM4 41h3v1h-3zM20 41h4v1h-4zM41 41h7v1h-7zM4 42h3v1h-3zM20 42h4v1h-4zM41 42h7v1h-7zM4 43h4v1h-4zM20 43h4v1h-4zM43 43h5v1h-5zM20 44h4v1h-4zM43 44h5v1h-5zM20 45h4v1h-4zM44 45h5v1h-5zM20 46h4v1h-4zM44 46h5v1h-5zM20 47h4v1h-4zM43 47h7v1h-7zM4 48h4v1h-4zM20 48h4v1h-4zM33 48h12v1h-12zM47 48h3v1h-3zM3 49h5v1h-5zM20 49h3v1h-3zM32 49h11v1h-11zM48 49h3v1h-3zM3 50h5v1h-5zM20 50h3v1h-3zM32 50h11v1h-11zM48 50h3v1h-3zM1 51h7v1h-7zM20 51h1v1h-1zM33 51h9v1h-9zM48 51h4v1h-4zM0 52h8v1h-8zM33 52h9v1h-9zM0 53h9v1h-9zM35 53h6v1h-6zM0 54h9v1h-9zM35 54h6v1h-6zM0 55h11v1h-11zM36 55h4v1h-4zM0 56h5v1h-5zM7 56h5v1h-5zM20 56h1v1h-1zM36 56h4v1h-4zM0 57h4v1h-4zM8 57h4v1h-4zM20 57h3v1h-3zM35 57h1v1h-1zM37 57h3v1h-3zM0 58h4v1h-4zM8 58h4v1h-4zM20 58h5v1h-5zM34 58h2v1h-2zM38 58h2v1h-2zM0 59h5v1h-5zM7 59h4v1h-4zM20 59h7v1h-7zM33 59h3v1h-3zM39 59h1v1h-1zM0 60h11v1h-11zM20 60h8v1h-8zM32 60h1v1h-1zM36 60h3v1h-3zM55 60h1v1h-1zM0 61h9v1h-9zM21 61h6v1h-6zM32 61h2v1h-2zM36 61h2v1h-2zM53 61h3v1h-3zM0 62h9v1h-9zM21 62h6v1h-6zM32 62h3v1h-3zM36 62h1v1h-1zM53 62h3v1h-3zM0 63h7v1h-7zM23 63h2v1h-2zM32 63h4v1h-4zM52 63h4v1h-4zM32 64h4v1h-4zM32 65h3v1h-3zM32 66h3v1h-3zM32 67h1v1h-1zM27 68h1v1h-1zM47 68h1v1h-1zM25 69h3v1h-3zM45 69h3v1h-3zM25 70h3v1h-3zM43 70h5v1h-5zM24 71h4v1h-4zM41 71h7v1h-7zM24 72h4v1h-4zM40 72h8v1h-8zM25 73h3v1h-3zM40 73h7v1h-7zM25 74h3v1h-3zM40 74h7v1h-7zM27 75h1v1h-1zM40 75h5v1h-5z"/><path fill="#0a7a8a" d="M0 4h8v1h-8zM0 5h8v1h-8zM0 6h8v1h-8zM0 7h8v1h-8zM0 8h8v1h-8zM55 8h1v1h-1zM0 9h8v1h-8zM53 9h3v1h-3zM0 10h8v1h-8zM51 10h5v1h-5zM0 11h8v1h-8zM50 11h6v1h-6zM0 12h8v1h-8zM50 12h6v1h-6zM0 13h8v1h-8zM49 13h7v1h-7zM0 14h8v1h-8zM47 14h9v1h-9zM0 15h8v1h-8zM46 15h10v1h-10zM0 16h8v1h-8zM46 16h9v1h-9zM0 17h7v1h-7zM45 17h8v1h-8zM0 18h7v1h-7zM43 18h10v1h-10zM0 19h5v1h-5zM42 19h10v1h-10zM42 20h10v1h-10zM41 21h11v1h-11zM39 22h13v1h-13zM37 23h15v1h-15zM36 24h16v1h-16zM36 25h16v1h-16zM36 26h16v1h-16zM36 27h16v1h-16zM36 28h16v1h-16zM36 29h16v1h-16zM36 30h16v1h-16zM36 31h16v1h-16zM36 32h16v1h-16zM36 33h15v1h-15zM36 34h15v1h-15zM36 35h14v1h-14zM41 36h9v1h-9zM43 37h6v1h-6zM43 38h6v1h-6zM44 39h4v1h-4zM0 40h4v1h-4zM0 41h4v1h-4zM0 42h4v1h-4zM0 43h4v1h-4zM0 44h4v1h-4zM0 45h4v1h-4zM0 46h4v1h-4zM0 47h4v1h-4zM51 56h1v1h-1zM49 57h2v1h-2zM49 58h2v1h-2zM48 59h1v1h-1zM0 72h15v1h-15zM53 72h3v1h-3zM0 73h16v1h-16zM51 73h5v1h-5zM0 74h16v1h-16zM51 74h5v1h-5zM0 75h15v1h-15zM49 75h7v1h-7zM1 76h14v1h-14zM49 76h6v1h-6zM3 77h10v1h-10zM48 77h5v1h-5zM3 78h10v1h-10zM48 78h5v1h-5zM4 79h8v1h-8zM48 79h4v1h-4z"/></svg>
<svg class="m" style="left:244.5px;top:556.5px;width:112px;height:146.5px" viewBox="0 0 64 80" preserveAspectRatio="none" shape-rendering="crispEdges"><rect width="64" height="80" fill="#fd9c64"/><path fill="#ffffc0" d="M0 0h4v1h-4zM36 0h4v1h-4zM48 0h4v1h-4zM0 1h4v1h-4zM36 1h4v1h-4zM48 1h4v1h-4zM0 2h4v1h-4zM36 2h4v1h-4zM48 2h4v1h-4zM0 3h4v1h-4zM36 3h4v1h-4zM48 3h4v1h-4zM12 4h1v1h-1zM48 4h4v1h-4zM56 4h1v1h-1zM12 5h3v1h-3zM47 5h5v1h-5zM57 5h2v1h-2zM12 6h3v1h-3zM47 6h5v1h-5zM57 6h4v1h-4zM12 7h4v1h-4zM45 7h7v1h-7zM58 7h5v1h-5zM40 8h12v1h-12zM58 8h6v1h-6zM40 9h12v1h-12zM59 9h5v1h-5zM40 10h12v1h-12zM59 10h5v1h-5zM40 11h12v1h-12zM60 11h4v1h-4zM40 12h5v1h-5zM47 12h5v1h-5zM60 12h4v1h-4zM40 13h4v1h-4zM49 13h3v1h-3zM59 13h5v1h-5zM40 14h4v1h-4zM49 14h3v1h-3zM59 14h5v1h-5zM40 15h4v1h-4zM51 15h1v1h-1zM58 15h6v1h-6zM16 16h4v1h-4zM40 16h4v1h-4zM58 16h6v1h-6zM16 17h4v1h-4zM39 17h6v1h-6zM57 17h7v1h-7zM16 18h4v1h-4zM39 18h6v1h-6zM57 18h7v1h-7zM16 19h4v1h-4zM37 19h9v1h-9zM56 19h8v1h-8zM8 20h1v1h-1zM16 20h4v1h-4zM32 20h14v1h-14zM56 20h8v1h-8zM8 21h3v1h-3zM16 21h5v1h-5zM33 21h14v1h-14zM56 21h8v1h-8zM8 22h3v1h-3zM16 22h5v1h-5zM33 22h14v1h-14zM56 22h8v1h-8zM8 23h4v1h-4zM16 23h7v1h-7zM35 23h13v1h-13zM56 23h8v1h-8zM8 24h4v1h-4zM16 24h9v1h-9zM35 24h13v1h-13zM56 24h8v1h-8zM8 25h3v1h-3zM16 25h11v1h-11zM36 25h11v1h-11zM57 25h7v1h-7zM8 26h3v1h-3zM16 26h11v1h-11zM36 26h11v1h-11zM57 26h7v1h-7zM8 27h1v1h-1zM16 27h12v1h-12zM35 27h11v1h-11zM58 27h6v1h-6zM0 28h4v1h-4zM16 28h5v1h-5zM23 28h5v1h-5zM32 28h5v1h-5zM39 28h7v1h-7zM58 28h6v1h-6zM0 29h3v1h-3zM16 29h4v1h-4zM24 29h4v1h-4zM32 29h4v1h-4zM40 29h5v1h-5zM59 29h5v1h-5zM0 30h3v1h-3zM16 30h4v1h-4zM24 30h4v1h-4zM32 30h4v1h-4zM40 30h3v1h-3zM61 30h3v1h-3zM0 31h1v1h-1zM16 31h5v1h-5zM23 31h6v1h-6zM31 31h6v1h-6zM39 31h3v1h-3zM63 31h1v1h-1zM16 32h26v1h-26zM16 33h25v1h-25zM16 34h25v1h-25zM16 35h24v1h-24zM16 36h11v1h-11zM29 36h11v1h-11zM15 37h10v1h-10zM31 37h9v1h-9zM15 38h10v1h-10zM33 38h7v1h-7zM14 39h10v1h-10zM35 39h5v1h-5zM4 40h1v1h-1zM14 40h3v1h-3zM19 40h5v1h-5zM44 40h4v1h-4zM60 40h4v1h-4zM4 41h3v1h-3zM13 41h2v1h-2zM21 41h3v1h-3zM44 41h4v1h-4zM60 41h4v1h-4zM4 42h3v1h-3zM13 42h2v1h-2zM21 42h3v1h-3zM44 42h4v1h-4zM60 42h4v1h-4zM4 43h5v1h-5zM11 43h3v1h-3zM23 43h1v1h-1zM44 43h4v1h-4zM60 43h4v1h-4zM4 44h10v1h-10zM4 45h9v1h-9zM4 46h9v1h-9zM4 47h8v1h-8zM4 48h8v1h-8zM4 49h8v1h-8zM4 50h8v1h-8zM4 51h8v1h-8zM4 52h8v1h-8zM40 52h4v1h-4zM3 53h1v1h-1zM5 53h6v1h-6zM40 53h4v1h-4zM2 54h2v1h-2zM6 54h5v1h-5zM40 54h4v1h-4zM1 55h3v1h-3zM7 55h2v1h-2zM40 55h4v1h-4zM0 56h7v1h-7zM20 56h4v1h-4zM40 56h4v1h-4zM0 57h6v1h-6zM20 57h3v1h-3zM40 57h4v1h-4zM0 58h5v1h-5zM20 58h3v1h-3zM40 58h4v1h-4zM0 59h3v1h-3zM20 59h1v1h-1zM40 59h4v1h-4zM5 64h3v1h-3zM12 64h12v1h-12zM4 65h4v1h-4zM12 65h13v1h-13zM4 66h4v1h-4zM12 66h13v1h-13zM5 67h3v1h-3zM12 67h15v1h-15zM13 68h19v1h-19zM44 68h4v1h-4zM15 69h16v1h-16zM32 69h1v1h-1zM43 69h4v1h-4zM15 70h15v1h-15zM32 70h2v1h-2zM43 70h4v1h-4zM16 71h13v1h-13zM32 71h3v1h-3zM41 71h5v1h-5zM16 72h5v1h-5zM29 72h3v1h-3zM35 72h11v1h-11zM15 73h5v1h-5zM30 73h2v1h-2zM34 73h11v1h-11zM15 74h5v1h-5zM31 74h1v1h-1zM33 74h12v1h-12zM14 75h7v1h-7zM32 75h12v1h-12zM14 76h7v1h-7zM32 76h12v1h-12zM60 76h4v1h-4zM13 77h10v1h-10zM32 77h12v1h-12zM60 77h4v1h-4zM13 78h10v1h-10zM32 78h12v1h-12zM60 78h4v1h-4zM12 79h12v1h-12zM32 79h12v1h-12zM60 79h4v1h-4z"/><path fill="#1a72bb" d="M4 0h12v1h-12zM24 0h8v1h-8zM4 1h13v1h-13zM23 1h10v1h-10zM4 2h13v1h-13zM23 2h10v1h-10zM4 3h15v1h-15zM21 3h14v1h-14zM13 4h27v1h-27zM15 5h25v1h-25zM15 6h25v1h-25zM16 7h24v1h-24zM16 8h24v1h-24zM16 9h24v1h-24zM16 10h24v1h-24zM16 11h24v1h-24zM16 12h7v1h-7zM29 12h11v1h-11zM16 13h5v1h-5zM31 13h9v1h-9zM16 14h5v1h-5zM33 14h7v1h-7zM16 15h4v1h-4zM35 15h5v1h-5zM11 32h5v1h-5zM9 33h7v1h-7zM9 34h7v1h-7zM8 35h8v1h-8zM8 36h7v1h-7zM27 36h1v1h-1zM8 37h5v1h-5zM25 37h4v1h-4zM8 38h5v1h-5zM25 38h4v1h-4zM9 39h2v1h-2zM24 39h6v1h-6zM24 40h6v1h-6zM56 40h4v1h-4zM24 41h7v1h-7zM55 41h5v1h-5zM24 42h7v1h-7zM55 42h5v1h-5zM24 43h8v1h-8zM53 43h7v1h-7zM24 44h8v1h-8zM43 44h17v1h-17zM24 45h8v1h-8zM41 45h19v1h-19zM24 46h8v1h-8zM41 46h19v1h-19zM24 47h8v1h-8zM40 47h20v1h-20zM24 48h8v1h-8zM40 48h19v1h-19zM24 49h9v1h-9zM40 49h17v1h-17zM24 50h9v1h-9zM40 50h17v1h-17zM24 51h10v1h-10zM40 51h16v1h-16zM24 52h10v1h-10zM24 53h11v1h-11zM24 54h11v1h-11zM24 55h12v1h-12zM29 56h7v1h-7zM31 57h6v1h-6zM31 58h7v1h-7zM33 59h6v1h-6zM25 60h2v1h-2zM33 60h3v1h-3zM39 60h5v1h-5zM24 61h4v1h-4zM34 61h2v1h-2zM38 61h6v1h-6zM24 62h4v1h-4zM35 62h1v1h-1zM37 62h7v1h-7zM24 63h4v1h-4zM36 63h8v1h-8zM24 64h4v1h-4zM36 64h8v1h-8zM25 65h3v1h-3zM37 65h7v1h-7zM25 66h3v1h-3zM37 66h7v1h-7zM27 67h1v1h-1zM38 67h6v1h-6zM38 68h6v1h-6zM39 69h4v1h-4zM39 70h4v1h-4zM40 71h1v1h-1z"/><path fill="#9ab1bc" d="M16 0h8v1h-8zM32 0h4v1h-4zM40 0h8v1h-8zM17 1h6v1h-6zM33 1h3v1h-3zM40 1h8v1h-8zM17 2h6v1h-6zM33 2h3v1h-3zM40 2h8v1h-8zM19 3h2v1h-2zM35 3h1v1h-1zM40 3h8v1h-8zM40 4h8v1h-8zM52 4h4v1h-4zM40 5h7v1h-7zM52 5h5v1h-5zM40 6h7v1h-7zM52 6h5v1h-5zM40 7h5v1h-5zM52 7h6v1h-6zM12 8h4v1h-4zM52 8h6v1h-6zM12 9h4v1h-4zM52 9h7v1h-7zM12 10h4v1h-4zM52 10h7v1h-7zM12 11h4v1h-4zM52 11h8v1h-8zM12 12h4v1h-4zM28 12h1v1h-1zM52 12h8v1h-8zM11 13h5v1h-5zM29 13h2v1h-2zM52 13h7v1h-7zM11 14h5v1h-5zM29 14h4v1h-4zM52 14h7v1h-7zM9 15h7v1h-7zM30 15h5v1h-5zM52 15h6v1h-6zM8 16h8v1h-8zM30 16h10v1h-10zM52 16h6v1h-6zM8 17h8v1h-8zM31 17h8v1h-8zM53 17h4v1h-4zM8 18h8v1h-8zM31 18h8v1h-8zM53 18h4v1h-4zM8 19h8v1h-8zM32 19h5v1h-5zM55 19h1v1h-1zM9 20h7v1h-7zM11 21h5v1h-5zM11 22h5v1h-5zM12 23h4v1h-4zM12 24h4v1h-4zM11 25h5v1h-5zM11 26h5v1h-5zM9 27h7v1h-7zM4 28h12v1h-12zM28 28h4v1h-4zM37 28h2v1h-2zM3 29h13v1h-13zM28 29h4v1h-4zM36 29h4v1h-4zM3 30h13v1h-13zM28 30h4v1h-4zM36 30h4v1h-4zM1 31h15v1h-15zM29 31h2v1h-2zM37 31h2v1h-2zM0 32h11v1h-11zM0 33h9v1h-9zM0 34h9v1h-9zM0 35h8v1h-8zM0 36h8v1h-8zM15 36h1v1h-1zM28 36h1v1h-1zM0 37h8v1h-8zM13 37h2v1h-2zM29 37h2v1h-2zM0 38h8v1h-8zM13 38h2v1h-2zM29 38h4v1h-4zM0 39h9v1h-9zM11 39h3v1h-3zM30 39h5v1h-5zM5 40h9v1h-9zM30 40h14v1h-14zM48 40h8v1h-8zM7 41h6v1h-6zM31 41h13v1h-13zM48 41h7v1h-7zM7 42h6v1h-6zM31 42h13v1h-13zM48 42h7v1h-7zM9 43h2v1h-2zM32 43h12v1h-12zM48 43h5v1h-5zM32 44h11v1h-11zM32 45h9v1h-9zM32 46h9v1h-9zM32 47h8v1h-8zM32 48h8v1h-8zM59 48h1v1h-1zM33 49h7v1h-7zM57 49h2v1h-2zM33 50h7v1h-7zM57 50h2v1h-2zM34 51h6v1h-6zM56 51h1v1h-1zM34 52h6v1h-6zM35 53h5v1h-5zM35 54h5v1h-5zM36 55h4v1h-4zM24 56h5v1h-5zM36 56h4v1h-4zM23 57h8v1h-8zM37 57h3v1h-3zM23 58h8v1h-8zM38 58h2v1h-2zM21 59h12v1h-12zM39 59h1v1h-1zM20 60h5v1h-5zM27 60h6v1h-6zM36 60h3v1h-3zM44 60h4v1h-4zM59 60h5v1h-5zM20 61h4v1h-4zM28 61h6v1h-6zM36 61h2v1h-2zM44 61h4v1h-4zM57 61h7v1h-7zM20 62h4v1h-4zM28 62h7v1h-7zM36 62h1v1h-1zM44 62h4v1h-4zM57 62h7v1h-7zM20 63h4v1h-4zM28 63h8v1h-8zM44 63h4v1h-4zM56 63h8v1h-8zM8 64h4v1h-4zM28 64h8v1h-8zM44 64h4v1h-4zM56 64h8v1h-8zM8 65h4v1h-4zM28 65h9v1h-9zM44 65h4v1h-4zM56 65h8v1h-8zM8 66h4v1h-4zM28 66h9v1h-9zM44 66h4v1h-4zM56 66h8v1h-8zM8 67h4v1h-4zM28 67h10v1h-10zM44 67h4v1h-4zM56 67h8v1h-8zM33 68h5v1h-5zM35 69h4v1h-4zM35 70h4v1h-4zM36 71h4v1h-4z"/><path fill="#f62a20" d="M0 4h8v1h-8zM0 5h8v1h-8zM0 6h8v1h-8zM0 7h8v1h-8zM0 8h8v1h-8zM0 9h8v1h-8zM0 10h8v1h-8zM0 11h8v1h-8zM0 12h8v1h-8zM0 13h8v1h-8zM0 14h8v1h-8zM0 15h8v1h-8zM0 16h8v1h-8zM25 16h2v1h-2zM0 17h8v1h-8zM24 17h4v1h-4zM0 18h8v1h-8zM24 18h4v1h-4zM0 19h8v1h-8zM25 19h2v1h-2zM0 20h7v1h-7zM0 21h5v1h-5zM0 22h3v1h-3zM0 23h1v1h-1zM63 36h1v1h-1zM61 37h3v1h-3zM61 38h3v1h-3zM60 39h4v1h-4zM17 44h2v1h-2zM16 45h4v1h-4zM16 46h4v1h-4zM16 47h4v1h-4zM16 48h4v1h-4zM16 49h4v1h-4zM16 50h4v1h-4zM16 51h4v1h-4zM16 52h4v1h-4zM48 52h4v1h-4zM16 53h4v1h-4zM47 53h5v1h-5zM16 54h4v1h-4zM47 54h5v1h-5zM16 55h4v1h-4zM45 55h7v1h-7zM16 56h4v1h-4zM44 56h8v1h-8zM17 57h3v1h-3zM44 57h7v1h-7zM17 58h3v1h-3zM44 58h7v1h-7zM19 59h1v1h-1zM44 59h5v1h-5zM55 68h5v1h-5zM53 69h7v1h-7zM51 70h9v1h-9zM50 71h10v1h-10zM50 72h10v1h-10zM49 73h11v1h-11zM49 74h11v1h-11zM48 75h12v1h-12zM48 76h12v1h-12zM48 77h12v1h-12zM48 78h12v1h-12zM48 79h12v1h-12z"/></svg>
<svg class="m" style="left:539.5px;top:551.5px;width:101px;height:146.5px" viewBox="0 0 28 40" preserveAspectRatio="none" shape-rendering="crispEdges"><rect width="28" height="40" fill="#44b2ec"/><path fill="#000090" d="M0 0h6v1h-6zM0 1h6v1h-6zM20 2h4v1h-4zM19 3h6v1h-6zM18 4h10v1h-10zM18 5h10v1h-10zM5 6h3v1h-3zM26 6h2v1h-2zM4 7h4v1h-4zM27 7h1v1h-1zM4 8h4v1h-4zM18 8h7v1h-7zM26 8h1v1h-1zM5 9h4v1h-4zM18 9h8v1h-8zM5 10h4v1h-4zM18 10h8v1h-8zM6 11h4v1h-4zM18 11h8v1h-8zM0 12h2v1h-2zM6 12h4v1h-4zM18 12h8v1h-8zM0 13h2v1h-2zM6 13h3v1h-3zM18 13h8v1h-8zM0 14h2v1h-2zM18 14h8v1h-8zM0 15h2v1h-2zM18 15h9v1h-9zM0 16h2v1h-2zM18 16h10v1h-10zM0 17h2v1h-2zM18 17h10v1h-10zM0 18h2v1h-2zM21 18h6v1h-6zM0 19h2v1h-2zM22 19h4v1h-4zM0 20h2v1h-2zM0 21h2v1h-2zM0 22h2v1h-2zM22 22h3v1h-3zM0 23h2v1h-2zM22 23h4v1h-4zM22 24h4v1h-4zM22 25h3v1h-3zM0 28h1v1h-1zM0 29h2v1h-2zM0 30h2v1h-2zM0 31h2v1h-2zM0 32h2v1h-2zM4 32h2v1h-2zM11 32h2v1h-2zM0 33h2v1h-2zM4 33h2v1h-2zM9 33h5v1h-5zM0 34h2v1h-2zM9 34h4v1h-4zM0 35h1v1h-1zM7 35h5v1h-5zM7 36h4v1h-4zM19 36h1v1h-1zM6 37h4v1h-4zM18 37h3v1h-3zM0 38h1v1h-1zM6 38h4v1h-4zM18 38h3v1h-3zM0 39h2v1h-2zM6 39h4v1h-4zM18 39h4v1h-4z"/><path fill="#1282e6" d="M6 0h4v1h-4zM12 0h4v1h-4zM18 0h10v1h-10zM6 1h3v1h-3zM12 1h3v1h-3zM19 1h9v1h-9zM9 2h1v1h-1zM11 2h4v1h-4zM10 3h4v1h-4zM10 4h4v1h-4zM11 5h3v1h-3zM16 6h1v1h-1zM16 7h2v1h-2zM16 8h2v1h-2zM16 9h2v1h-2zM16 10h2v1h-2zM17 11h1v1h-1zM6 14h2v1h-2zM6 15h3v1h-3zM6 16h12v1h-12zM6 17h12v1h-12zM6 18h2v1h-2zM10 18h8v1h-8zM20 18h1v1h-1zM6 19h2v1h-2zM10 19h8v1h-8zM20 19h2v1h-2zM6 20h2v1h-2zM10 20h7v1h-7zM20 20h2v1h-2zM6 21h2v1h-2zM10 21h6v1h-6zM19 21h3v1h-3zM6 22h2v1h-2zM10 22h6v1h-6zM19 22h3v1h-3zM6 23h2v1h-2zM10 23h5v1h-5zM18 23h4v1h-4zM6 24h2v1h-2zM10 24h3v1h-3zM18 24h4v1h-4zM6 25h2v1h-2zM10 25h2v1h-2zM19 25h3v1h-3zM2 26h1v1h-1zM10 26h2v1h-2zM3 27h2v1h-2zM10 27h2v1h-2zM3 28h4v1h-4zM10 28h2v1h-2zM23 28h3v1h-3zM5 29h3v1h-3zM10 29h2v1h-2zM22 29h4v1h-4zM7 30h4v1h-4zM14 30h3v1h-3zM22 30h2v1h-2zM8 31h2v1h-2zM15 31h3v1h-3zM22 31h2v1h-2zM16 32h2v1h-2zM22 32h4v1h-4zM16 33h3v1h-3zM21 33h5v1h-5zM13 34h12v1h-12zM12 35h12v1h-12zM13 36h6v1h-6zM21 36h3v1h-3zM15 37h3v1h-3zM23 37h1v1h-1z"/><path fill="#0a3cc0" d="M10 0h2v1h-2zM16 0h2v1h-2zM9 1h3v1h-3zM15 1h4v1h-4zM6 2h3v1h-3zM10 2h1v1h-1zM15 2h5v1h-5zM24 2h4v1h-4zM6 3h4v1h-4zM14 3h5v1h-5zM25 3h3v1h-3zM6 4h3v1h-3zM14 4h4v1h-4zM6 5h2v1h-2zM14 5h4v1h-4zM17 6h9v1h-9zM18 7h9v1h-9zM25 8h1v1h-1zM27 8h1v1h-1zM26 9h2v1h-2zM0 10h1v1h-1zM26 10h2v1h-2zM0 11h2v1h-2zM26 11h2v1h-2zM26 12h2v1h-2zM26 13h2v1h-2zM26 14h2v1h-2zM27 15h1v1h-1zM18 18h2v1h-2zM27 18h1v1h-1zM18 19h2v1h-2zM26 19h2v1h-2zM0 24h2v1h-2zM0 25h2v1h-2zM0 26h2v1h-2zM0 27h3v1h-3zM1 28h2v1h-2zM2 29h3v1h-3zM2 30h5v1h-5zM11 30h3v1h-3zM2 31h6v1h-6zM10 31h5v1h-5zM2 32h2v1h-2zM6 32h5v1h-5zM13 32h3v1h-3zM2 33h2v1h-2zM6 33h3v1h-3zM14 33h2v1h-2zM2 34h7v1h-7zM1 35h6v1h-6zM0 36h7v1h-7zM11 36h2v1h-2zM20 36h1v1h-1zM0 37h6v1h-6zM10 37h5v1h-5zM21 37h2v1h-2zM1 38h5v1h-5zM10 38h8v1h-8zM21 38h3v1h-3zM2 39h4v1h-4zM10 39h8v1h-8zM22 39h2v1h-2z"/></svg>
<svg class="m" style="left:656.5px;top:551.5px;width:103.3px;height:146.5px" viewBox="0 0 28 40" preserveAspectRatio="none" shape-rendering="crispEdges"><rect width="28" height="40" fill="#1282e6"/><path fill="#44b2ec" d="M2 0h4v1h-4zM12 0h4v1h-4zM22 0h2v1h-2zM2 1h4v1h-4zM12 1h5v1h-5zM22 1h2v1h-2zM12 2h5v1h-5zM22 2h2v1h-2zM13 3h5v1h-5zM22 3h2v1h-2zM13 4h5v1h-5zM14 5h4v1h-4zM14 6h4v1h-4zM15 7h3v1h-3zM15 8h3v1h-3zM16 9h1v1h-1zM12 10h2v1h-2zM11 11h3v1h-3zM2 12h2v1h-2zM10 12h4v1h-4zM2 13h2v1h-2zM9 13h5v1h-5zM8 14h6v1h-6zM8 15h7v1h-7zM2 16h2v1h-2zM8 16h7v1h-7zM2 17h2v1h-2zM9 17h8v1h-8zM13 18h4v1h-4zM15 19h4v1h-4zM2 20h3v1h-3zM15 20h5v1h-5zM2 21h4v1h-4zM17 21h3v1h-3zM2 22h4v1h-4zM2 23h4v1h-4zM2 24h4v1h-4zM2 25h4v1h-4zM24 26h2v1h-2zM24 27h2v1h-2zM10 30h2v1h-2zM10 31h2v1h-2z"/><path fill="#9eecf0" d="M20 0h2v1h-2zM21 1h1v1h-1z"/><path fill="#000090" d="M0 2h2v1h-2zM0 3h2v1h-2zM0 4h2v1h-2zM22 4h4v1h-4zM0 5h2v1h-2zM22 5h3v1h-3zM0 6h2v1h-2zM22 6h2v1h-2zM0 7h2v1h-2zM22 7h2v1h-2zM0 8h2v1h-2zM24 8h2v1h-2zM0 9h2v1h-2zM24 9h2v1h-2zM0 10h2v1h-2zM8 10h2v1h-2zM19 10h7v1h-7zM0 11h2v1h-2zM7 11h3v1h-3zM18 11h8v1h-8zM6 12h4v1h-4zM18 12h8v1h-8zM6 13h3v1h-3zM18 13h8v1h-8zM18 14h8v1h-8zM18 15h7v1h-7zM18 16h7v1h-7zM19 17h4v1h-4zM0 18h1v1h-1zM0 19h2v1h-2zM0 20h2v1h-2zM22 20h2v1h-2zM0 21h2v1h-2zM22 21h2v1h-2zM0 22h2v1h-2zM22 22h2v1h-2zM0 23h2v1h-2zM22 23h2v1h-2zM6 24h2v1h-2zM22 24h2v1h-2zM6 25h2v1h-2zM23 25h1v1h-1zM6 26h2v1h-2zM6 27h1v1h-1zM6 30h2v1h-2zM6 31h2v1h-2zM0 32h2v1h-2zM0 33h3v1h-3zM0 34h4v1h-4zM8 34h2v1h-2zM22 34h2v1h-2zM0 35h4v1h-4zM7 35h3v1h-3zM22 35h2v1h-2zM0 36h4v1h-4zM6 36h4v1h-4zM22 36h2v1h-2zM0 37h3v1h-3zM6 37h4v1h-4zM22 37h2v1h-2zM0 38h2v1h-2zM4 38h2v1h-2zM8 38h2v1h-2zM12 38h2v1h-2zM16 38h2v1h-2zM22 38h2v1h-2zM0 39h2v1h-2zM4 39h2v1h-2zM8 39h2v1h-2zM12 39h2v1h-2zM16 39h2v1h-2zM22 39h2v1h-2z"/><path fill="#0a3cc0" d="M2 2h4v1h-4zM2 3h4v1h-4zM2 4h4v1h-4zM21 4h1v1h-1zM26 4h2v1h-2zM2 5h3v1h-3zM19 5h3v1h-3zM25 5h3v1h-3zM2 6h3v1h-3zM8 6h2v1h-2zM18 6h4v1h-4zM24 6h4v1h-4zM2 7h1v1h-1zM8 7h2v1h-2zM18 7h4v1h-4zM24 7h4v1h-4zM18 8h6v1h-6zM26 8h2v1h-2zM17 9h7v1h-7zM26 9h2v1h-2zM16 10h3v1h-3zM26 10h2v1h-2zM17 11h1v1h-1zM26 11h2v1h-2zM0 12h2v1h-2zM26 12h2v1h-2zM0 13h2v1h-2zM26 13h2v1h-2zM26 14h2v1h-2zM25 15h3v1h-3zM25 16h3v1h-3zM23 17h5v1h-5zM22 18h6v1h-6zM22 19h6v1h-6zM12 22h2v1h-2zM12 23h2v1h-2zM0 24h2v1h-2zM8 24h1v1h-1zM12 24h2v1h-2zM18 24h2v1h-2zM24 24h1v1h-1zM0 25h2v1h-2zM8 25h2v1h-2zM12 25h3v1h-3zM18 25h2v1h-2zM24 25h2v1h-2zM0 26h2v1h-2zM8 26h2v1h-2zM13 26h3v1h-3zM0 27h3v1h-3zM7 27h2v1h-2zM14 27h2v1h-2zM0 28h3v1h-3zM6 28h3v1h-3zM21 28h5v1h-5zM0 29h4v1h-4zM6 29h2v1h-2zM20 29h5v1h-5zM0 30h4v1h-4zM14 30h3v1h-3zM20 30h3v1h-3zM0 31h3v1h-3zM13 31h5v1h-5zM20 31h2v1h-2zM6 32h3v1h-3zM12 32h2v1h-2zM16 32h5v1h-5zM27 32h1v1h-1zM5 33h5v1h-5zM12 33h2v1h-2zM16 33h4v1h-4zM26 33h2v1h-2zM4 34h4v1h-4zM10 34h1v1h-1zM16 34h2v1h-2zM26 34h2v1h-2zM4 35h3v1h-3zM10 35h2v1h-2zM16 35h2v1h-2zM26 35h2v1h-2zM4 36h2v1h-2zM10 36h3v1h-3zM16 36h3v1h-3zM26 36h2v1h-2zM3 37h3v1h-3zM10 37h4v1h-4zM16 37h5v1h-5zM26 37h2v1h-2zM2 38h2v1h-2zM6 38h2v1h-2zM10 38h2v1h-2zM14 38h2v1h-2zM18 38h4v1h-4zM26 38h2v1h-2zM2 39h2v1h-2zM6 39h2v1h-2zM10 39h2v1h-2zM14 39h2v1h-2zM18 39h4v1h-4zM26 39h2v1h-2z"/></svg>
<svg class="m" style="left:776.5px;top:550px;width:111.7px;height:146.4px" viewBox="0 0 16 20" preserveAspectRatio="none" shape-rendering="crispEdges"><rect width="16" height="20" fill="#ffffc0"/><path fill="#1a72bb" d="M0 0h4v1h-4zM6 0h2v1h-2zM10 0h3v1h-3zM3 1h1v1h-1zM6 1h3v1h-3zM11 1h3v1h-3zM3 2h1v1h-1zM7 2h3v1h-3zM13 2h2v1h-2zM3 3h1v1h-1zM8 3h2v1h-2zM13 3h2v1h-2zM2 4h2v1h-2zM9 4h1v1h-1zM14 4h1v1h-1zM3 5h1v1h-1zM3 6h1v1h-1zM0 7h1v1h-1zM9 7h1v1h-1zM0 8h1v1h-1zM9 8h1v1h-1zM3 11h1v1h-1zM12 11h1v1h-1zM12 12h1v1h-1zM2 15h1v1h-1zM5 15h2v1h-2zM1 16h1v1h-1zM5 16h1v1h-1zM15 16h1v1h-1zM15 17h1v1h-1zM15 19h1v1h-1z"/><path fill="#9ab1bc" d="M4 0h2v1h-2zM8 0h2v1h-2zM4 1h1v1h-1zM9 1h2v1h-2zM12 2h1v1h-1zM15 2h1v1h-1zM12 3h1v1h-1zM15 3h1v1h-1zM8 4h1v1h-1zM10 4h1v1h-1zM13 4h1v1h-1zM15 4h1v1h-1zM4 5h1v1h-1zM9 5h3v1h-3zM0 6h1v1h-1zM4 6h1v1h-1zM9 6h4v1h-4zM4 7h1v1h-1zM7 7h1v1h-1zM10 7h2v1h-2zM4 8h3v1h-3zM8 8h1v1h-1zM10 8h3v1h-3zM0 9h1v1h-1zM3 9h1v1h-1zM6 9h1v1h-1zM9 9h1v1h-1zM11 9h1v1h-1zM6 10h1v1h-1zM9 10h2v1h-2zM15 10h1v1h-1zM0 11h1v1h-1zM2 11h1v1h-1zM6 11h1v1h-1zM9 11h1v1h-1zM11 11h1v1h-1zM0 12h1v1h-1zM11 12h1v1h-1zM0 13h1v1h-1zM2 13h1v1h-1zM14 13h2v1h-2zM0 14h3v1h-3zM15 14h1v1h-1zM0 15h1v1h-1zM3 15h1v1h-1zM15 15h1v1h-1zM2 16h2v1h-2zM6 16h2v1h-2zM1 17h4v1h-4zM6 17h2v1h-2zM4 18h3v1h-3zM9 18h1v1h-1zM0 19h1v1h-1zM2 19h5v1h-5zM9 19h2v1h-2z"/><path fill="#fd9c64" d="M15 0h1v1h-1zM15 1h1v1h-1zM5 2h1v1h-1zM4 3h3v1h-3zM4 4h3v1h-3zM0 5h1v1h-1zM2 6h1v1h-1zM6 6h3v1h-3zM15 6h1v1h-1zM1 7h2v1h-2zM2 8h1v1h-1zM15 8h1v1h-1zM1 9h2v1h-2zM4 9h1v1h-1zM12 9h2v1h-2zM15 9h1v1h-1zM0 10h1v1h-1zM3 10h2v1h-2zM12 10h2v1h-2zM1 11h1v1h-1zM4 11h2v1h-2zM13 11h2v1h-2zM3 12h1v1h-1zM5 12h1v1h-1zM7 12h3v1h-3zM13 12h1v1h-1zM3 13h1v1h-1zM7 13h5v1h-5zM5 14h1v1h-1zM7 14h7v1h-7zM4 15h1v1h-1zM9 15h4v1h-4zM9 16h3v1h-3zM14 16h1v1h-1zM9 17h3v1h-3zM13 17h1v1h-1zM0 18h1v1h-1zM11 18h4v1h-4zM13 19h2v1h-2z"/><path fill="#f62a20" d="M0 1h3v1h-3zM0 2h3v1h-3zM0 3h3v1h-3zM0 4h2v1h-2zM15 5h1v1h-1zM4 12h1v1h-1zM4 13h2v1h-2zM4 14h1v1h-1zM12 17h1v1h-1zM14 17h1v1h-1zM12 19h1v1h-1z"/></svg>
<div class="t" style="left:64.5px;top:1.1px;font-size:19px;font-weight:bold;transform:translateX(-50%);color:#000">2001</div>
<div class="t" style="left:196.6px;top:1.4px;font-size:19px;font-weight:bold;transform:translateX(-50%);color:#000">2006</div>
<div class="t" style="left:127px;top:21.6px;font-size:19px;font-weight:bold;transform:translateX(-50%);color:#000">Land Cover</div>
<div class="t" style="left:591.9px;top:1.4px;font-size:19px;font-weight:bold;transform:translateX(-50%);color:#000">2001</div>
<div class="t" style="left:724px;top:1.4px;font-size:19px;font-weight:bold;transform:translateX(-50%);color:#000">2006</div>
<div class="t" style="left:651px;top:24.5px;font-size:19px;font-weight:bold;transform:translateX(-50%);color:#000">Percentage of Impervious Surface</div>
<div class="t" style="left:899.2px;top:19.0px;font-size:19px;font-weight:bold;transform:translateX(-50%);color:#000">% of Change</div>
<div class="t" style="left:130.8px;top:246.7px;font-size:19px;font-weight:bold;transform:translateX(-50%);color:#000">Scaled Vegetation Fraction</div>
<div class="t" style="left:351.7px;top:247.5px;font-size:19px;font-weight:bold;transform:translateX(-50%);color:#000">% of Change</div>
<div class="t" style="left:627.5px;top:253.5px;font-size:19px;font-weight:bold;transform:translateX(-50%);color:#000">Scaled LST</div>
<div class="t" style="left:877.8px;top:253.2px;font-size:19px;font-weight:bold;transform:translateX(-50%);color:#000">% of Change</div>
<div class="t" style="left:129.3px;top:535.8px;font-size:19px;font-weight:bold;transform:translateX(-50%);color:#000">Soil Moisture</div>
<div class="t" style="left:361.3px;top:532.5px;font-size:19px;font-weight:bold;transform:translateX(-50%);color:#000">% of Change</div>
<div class="t" style="left:658.7px;top:531.5px;font-size:19px;font-weight:bold;transform:translateX(-50%);color:#000">NDWI (Gao, 1996)</div>
<div class="t" style="left:876.9px;top:527.3px;font-size:19px;font-weight:bold;transform:translateX(-50%);color:#000">% of Change</div>
<div class="t" style="left:66px;top:200.3px;font-size:19px;font-weight:bold;transform:translateX(-50%);color:#000">(a)</div>
<div class="t" style="left:194.6px;top:200.3px;font-size:19px;font-weight:bold;transform:translateX(-50%);color:#000">(b)</div>
<div class="t" style="left:579.7px;top:198.7px;font-size:19px;font-weight:bold;transform:translateX(-50%);color:#000">(c)</div>
<div class="t" style="left:707.8px;top:198.7px;font-size:19px;font-weight:bold;transform:translateX(-50%);color:#000">(d)</div>
<div class="t" style="left:836px;top:198.9px;font-size:19px;font-weight:bold;transform:translateX(-50%);color:#000">(e)</div>
<div class="t" style="left:55px;top:419.4px;font-size:19px;font-weight:bold;transform:translateX(-50%);color:#000">(f)</div>
<div class="t" style="left:181.6px;top:419.4px;font-size:19px;font-weight:bold;transform:translateX(-50%);color:#000">(g)</div>
<div class="t" style="left:310.5px;top:419.0px;font-size:19px;font-weight:bold;transform:translateX(-50%);color:#000">(h)</div>
<div class="t" style="left:580.5px;top:423.4px;font-size:19px;font-weight:bold;transform:translateX(-50%);color:#000">(i)</div>
<div class="t" style="left:703.4px;top:423.4px;font-size:19px;font-weight:bold;transform:translateX(-50%);color:#000">(j)</div>
<div class="t" style="left:828.4px;top:423.4px;font-size:19px;font-weight:bold;transform:translateX(-50%);color:#000">(k)</div>
<div class="t" style="left:46px;top:709.3px;font-size:19px;font-weight:bold;transform:translateX(-50%);color:#000">(l)</div>
<div class="t" style="left:174px;top:709.3px;font-size:19px;font-weight:bold;transform:translateX(-50%);color:#000">(m)</div>
<div class="t" style="left:306px;top:709.7px;font-size:19px;font-weight:bold;transform:translateX(-50%);color:#000">(n)</div>
<div class="t" style="left:577px;top:703.4px;font-size:19px;font-weight:bold;transform:translateX(-50%);color:#000">(o)</div>
<div class="t" style="left:706px;top:703.4px;font-size:19px;font-weight:bold;transform:translateX(-50%);color:#000">(p)</div>
<div class="t" style="left:835px;top:702.4px;font-size:19px;font-weight:bold;transform:translateX(-50%);color:#000">(q)</div>
<div class="s" style="left:900.3px;top:48.9px;width:41.3px;height:20.6px;background:#1a72bb;border-color:#7a7a7a"></div>
<div class="t" style="left:947.8px;top:51.3px;font-size:16.5px;color:#000">0 - 10%</div>
<div class="s" style="left:900.3px;top:76.5px;width:41.3px;height:20.6px;background:#9ab1bc;border-color:#7a7a7a"></div>
<div class="t" style="left:947.8px;top:78.9px;font-size:16.5px;color:#000">10 - 27%</div>
<div class="s" style="left:900.3px;top:104.1px;width:41.3px;height:20.6px;background:#ffffc0;border-color:#7a7a7a"></div>
<div class="t" style="left:947.8px;top:106.5px;font-size:16.5px;color:#000">27 - 44%</div>
<div class="s" style="left:900.3px;top:131.7px;width:41.3px;height:20.6px;background:#fd9c64;border-color:#7a7a7a"></div>
<div class="t" style="left:947.8px;top:134.1px;font-size:16.5px;color:#000">44 - 61%</div>
<div class="s" style="left:900.3px;top:159.3px;width:41.3px;height:20.6px;background:#f62a20;border-color:#7a7a7a"></div>
<div class="t" style="left:947.8px;top:161.7px;font-size:16.5px;color:#000">61 - 100%</div>
<div class="s" style="left:365px;top:278.6px;width:41px;height:20.6px;background:#1a72bb;border-color:#7a7a7a"></div>
<div class="t" style="left:412.4px;top:281.0px;font-size:16.5px;color:#000">-63 - -29%</div>
<div class="s" style="left:365px;top:306.2px;width:41px;height:20.6px;background:#9ab1bc;border-color:#7a7a7a"></div>
<div class="t" style="left:412.4px;top:308.6px;font-size:16.5px;color:#000">-29 - -13%</div>
<div class="s" style="left:365px;top:333.8px;width:41px;height:20.6px;background:#ffffc0;border-color:#7a7a7a"></div>
<div class="t" style="left:412.4px;top:336.2px;font-size:16.5px;color:#000">-13 - 3%</div>
<div class="s" style="left:365px;top:361.4px;width:41px;height:20.6px;background:#fd9c64;border-color:#7a7a7a"></div>
<div class="t" style="left:412.4px;top:363.8px;font-size:16.5px;color:#000">3 - 26%</div>
<div class="s" style="left:365px;top:389.0px;width:41px;height:20.6px;background:#f62a20;border-color:#7a7a7a"></div>
<div class="t" style="left:412.4px;top:391.4px;font-size:16.5px;color:#000">26 - 74%</div>
<div class="s" style="left:887.5px;top:274.0px;width:41.0px;height:20.6px;background:#1a72bb;border-color:#7a7a7a"></div>
<div class="t" style="left:934.9px;top:276.4px;font-size:16.5px;color:#000">-30 - -7%</div>
<div class="s" style="left:887.5px;top:301.4px;width:41.0px;height:20.6px;background:#9ab1bc;border-color:#7a7a7a"></div>
<div class="t" style="left:934.9px;top:303.8px;font-size:16.5px;color:#000">-7 - 8%</div>
<div class="s" style="left:887.5px;top:328.8px;width:41.0px;height:20.6px;background:#ffffc0;border-color:#7a7a7a"></div>
<div class="t" style="left:934.9px;top:331.2px;font-size:16.5px;color:#000">8 - 21%</div>
<div class="s" style="left:887.5px;top:356.2px;width:41.0px;height:20.6px;background:#fd9c64;border-color:#7a7a7a"></div>
<div class="t" style="left:934.9px;top:358.6px;font-size:16.5px;color:#000">21 - 37%</div>
<div class="s" style="left:887.5px;top:383.6px;width:41.0px;height:20.6px;background:#f62a20;border-color:#7a7a7a"></div>
<div class="t" style="left:934.9px;top:386.0px;font-size:16.5px;color:#000">37 - 65%</div>
<div class="s" style="left:361.9px;top:558.6px;width:41.1px;height:20.6px;background:#1a72bb;border-color:#7a7a7a"></div>
<div class="t" style="left:409.09999999999997px;top:561.0px;font-size:16.5px;color:#000">-13 - -7%</div>
<div class="s" style="left:361.9px;top:586.1px;width:41.1px;height:20.6px;background:#9ab1bc;border-color:#7a7a7a"></div>
<div class="t" style="left:409.09999999999997px;top:588.5px;font-size:16.5px;color:#000">-7 - -4%</div>
<div class="s" style="left:361.9px;top:613.6px;width:41.1px;height:20.6px;background:#ffffc0;border-color:#7a7a7a"></div>
<div class="t" style="left:409.09999999999997px;top:616.0px;font-size:16.5px;color:#000">-4 - -1%</div>
<div class="s" style="left:361.9px;top:641.1px;width:41.1px;height:20.6px;background:#fd9c64;border-color:#7a7a7a"></div>
<div class="t" style="left:409.09999999999997px;top:643.5px;font-size:16.5px;color:#000">-1 - 3%</div>
<div class="s" style="left:361.9px;top:668.6px;width:41.1px;height:20.6px;background:#f62a20;border-color:#7a7a7a"></div>
<div class="t" style="left:409.09999999999997px;top:671.0px;font-size:16.5px;color:#000">3 - 9%</div>
<div class="s" style="left:892px;top:549.6px;width:41px;height:20.6px;background:#1a72bb;border-color:#7a7a7a"></div>
<div class="t" style="left:939.4px;top:552.0px;font-size:16.5px;color:#000">-68 - -17%</div>
<div class="s" style="left:892px;top:577.2px;width:41px;height:20.6px;background:#9ab1bc;border-color:#7a7a7a"></div>
<div class="t" style="left:939.4px;top:579.6px;font-size:16.5px;color:#000">-17 - -2%</div>
<div class="s" style="left:892px;top:604.8px;width:41px;height:20.6px;background:#ffffc0;border-color:#7a7a7a"></div>
<div class="t" style="left:939.4px;top:607.2px;font-size:16.5px;color:#000">-2 - 11%</div>
<div class="s" style="left:892px;top:632.4px;width:41px;height:20.6px;background:#fd9c64;border-color:#7a7a7a"></div>
<div class="t" style="left:939.4px;top:634.8px;font-size:16.5px;color:#000">11 - 28%</div>
<div class="s" style="left:892px;top:660.0px;width:41px;height:20.6px;background:#f62a20;border-color:#7a7a7a"></div>
<div class="t" style="left:939.4px;top:662.4px;font-size:16.5px;color:#000">28 - 56%</div>
<div class="s" style="left:12px;top:443.2px;width:41.7px;height:20.5px;background:#b4fccc;border-color:#7a7a7a"></div>
<div class="t" style="left:60.199999999999996px;top:445.6px;font-size:16.5px;color:#000">min - 0.2</div>
<div class="s" style="left:12px;top:470.6px;width:41.7px;height:20.5px;background:#80f5a0;border-color:#7a7a7a"></div>
<div class="t" style="left:60.199999999999996px;top:473.0px;font-size:16.5px;color:#000">0.2 - 0.4</div>
<div class="s" style="left:12px;top:498.3px;width:41.7px;height:20.5px;background:#00eb66;border-color:#7a7a7a"></div>
<div class="t" style="left:60.199999999999996px;top:500.7px;font-size:16.5px;color:#000">0.4 - 0.6</div>
<div class="s" style="left:131px;top:443.2px;width:40.9px;height:20.5px;background:#00d83c;border-color:#7a7a7a"></div>
<div class="t" style="left:179.0px;top:445.6px;font-size:16.5px;color:#000">0.6 - 0.8</div>
<div class="s" style="left:131px;top:470.6px;width:40.9px;height:20.5px;background:#00c800;border-color:#7a7a7a"></div>
<div class="t" style="left:179.0px;top:473.0px;font-size:16.5px;color:#000">0.8 - 1.0</div>
<div class="s" style="left:543.8px;top:444.9px;width:41.9px;height:20.5px;background:#feeadb;border-color:#7a7a7a"></div>
<div class="t" style="left:591.4px;top:447.2px;font-size:16.5px;color:#000">min - 0.3</div>
<div class="s" style="left:543.8px;top:472.5px;width:41.9px;height:20.5px;background:#fcbb9c;border-color:#7a7a7a"></div>
<div class="t" style="left:591.4px;top:474.9px;font-size:16.5px;color:#000">0.3 - 0.35</div>
<div class="s" style="left:543.8px;top:500.1px;width:41.9px;height:20.5px;background:#fc8a6a;border-color:#7a7a7a"></div>
<div class="t" style="left:591.4px;top:502.5px;font-size:16.5px;color:#000">0.35 - 0.4</div>
<div class="s" style="left:668.2px;top:444.9px;width:40.7px;height:20.5px;background:#ef4232;border-color:#7a7a7a"></div>
<div class="t" style="left:715.9px;top:447.2px;font-size:16.5px;color:#000">0.4 - 0.45</div>
<div class="s" style="left:668.2px;top:472.5px;width:40.7px;height:20.5px;background:#e00000;border-color:#7a7a7a"></div>
<div class="t" style="left:715.9px;top:474.9px;font-size:16.5px;color:#000">0.45 - 0.5</div>
<div class="s" style="left:4px;top:734.5px;width:41.3px;height:20.5px;background:#b05510;border-color:#7a7a7a"></div>
<div class="t" style="left:51.8px;top:736.9px;font-size:16.5px;color:#000">min - 0.19</div>
<div class="s" style="left:4px;top:761.7px;width:41.3px;height:20.5px;background:#e0a464;border-color:#7a7a7a"></div>
<div class="t" style="left:51.8px;top:764.1px;font-size:16.5px;color:#000">0.19 - 0.195</div>
<div class="s" style="left:4px;top:788.9px;width:41.3px;height:20.5px;background:#ffffc4;border-color:#7a7a7a"></div>
<div class="t" style="left:51.8px;top:791.2px;font-size:16.5px;color:#000">0.195 - 0.2</div>
<div class="s" style="left:146.4px;top:734.5px;width:41.1px;height:20.5px;background:#80c4ac;border-color:#7a7a7a"></div>
<div class="t" style="left:194.20000000000002px;top:736.9px;font-size:16.5px;color:#000">0.2 - 0.205</div>
<div class="s" style="left:146.4px;top:761.7px;width:41.1px;height:20.5px;background:#0a7a8a;border-color:#7a7a7a"></div>
<div class="t" style="left:194.20000000000002px;top:764.1px;font-size:16.5px;color:#000">0.205 - 0.21</div>
<div class="s" style="left:539.6px;top:731px;width:41.0px;height:20.5px;background:#9eecf0;border-color:#7a7a7a"></div>
<div class="t" style="left:586.8px;top:733.4px;font-size:16.5px;color:#000">min - -0.2</div>
<div class="s" style="left:539.6px;top:758.3px;width:41.0px;height:20.5px;background:#44b2ec;border-color:#7a7a7a"></div>
<div class="t" style="left:586.8px;top:760.6px;font-size:16.5px;color:#000">-0.2 - -0.05</div>
<div class="s" style="left:539.6px;top:785.6px;width:41.0px;height:20.5px;background:#1282e6;border-color:#7a7a7a"></div>
<div class="t" style="left:586.8px;top:788.0px;font-size:16.5px;color:#000">-0.05 - 0.1</div>
<div class="s" style="left:674.4px;top:731px;width:41.0px;height:20.5px;background:#0a3cc0;border-color:#7a7a7a"></div>
<div class="t" style="left:722.1999999999999px;top:733.4px;font-size:16.5px;color:#000">0.1 - 0.25</div>
<div class="s" style="left:674.4px;top:758.3px;width:41.0px;height:20.5px;background:#000090;border-color:#7a7a7a"></div>
<div class="t" style="left:722.1999999999999px;top:760.6px;font-size:16.5px;color:#000">0.25 - 0.4</div>
<div class="t" style="left:252.79999999999998px;top:44px;font-size:11.6px;color:#000">NLCD Land Cover Classification Legend</div>
<div class="s" style="left:253.6px;top:62.6px;width:24.4px;height:12.2px;background:#2f6fae;border-color:#7a7a7a"></div>
<div class="t" style="left:280.09999999999997px;top:62.7px;font-size:12px;color:#000">Open Water</div>
<div class="s" style="left:253.6px;top:78.8px;width:24.4px;height:12.2px;background:#e8cccc;border-color:#7a7a7a"></div>
<div class="t" style="left:280.09999999999997px;top:78.9px;font-size:12px;color:#000">Developed, Open Space</div>
<div class="s" style="left:253.6px;top:95.1px;width:24.4px;height:12.2px;background:#f0a08c;border-color:#7a7a7a"></div>
<div class="t" style="left:280.09999999999997px;top:95.2px;font-size:12px;color:#000">Developed, Low Intensity</div>
<div class="s" style="left:253.6px;top:111.3px;width:24.4px;height:12.2px;background:#ff0000;border-color:#7a7a7a"></div>
<div class="t" style="left:280.09999999999997px;top:111.4px;font-size:12px;color:#000">Developed, Medium Intensity</div>
<div class="s" style="left:253.6px;top:127.6px;width:24.4px;height:12.2px;background:#c00000;border-color:#7a7a7a"></div>
<div class="t" style="left:280.09999999999997px;top:127.7px;font-size:12px;color:#000">Developed, High Intensity</div>
<div class="s" style="left:253.6px;top:143.8px;width:24.4px;height:12.2px;background:#38a85c;border-color:#7a7a7a"></div>
<div class="t" style="left:280.09999999999997px;top:143.9px;font-size:12px;color:#000">Deciduous Forest</div>
<div class="s" style="left:253.6px;top:160.1px;width:24.4px;height:12.2px;background:#e0d428;border-color:#7a7a7a"></div>
<div class="t" style="left:280.09999999999997px;top:160.2px;font-size:12px;color:#000">Pasture/Hay</div>
<div class="s" style="left:253.6px;top:176.3px;width:24.4px;height:12.2px;background:#b8701e;border-color:#7a7a7a"></div>
<div class="t" style="left:280.09999999999997px;top:176.4px;font-size:12px;color:#000">Cultivated Crops</div>
<div class="s" style="left:253.6px;top:192.6px;width:24.4px;height:12.2px;background:#5aa8c8;border-color:#7a7a7a"></div>
<div class="t" style="left:280.09999999999997px;top:192.7px;font-size:12px;color:#000">Emergent Herbaceous Wetlands</div>
<div style="position:absolute;left:539px;top:225px;width:254px;height:8px;background:linear-gradient(to right,#d8d8d8 0%,#eccaca 20%,#f8b0b8 40%,#fc8890 58%,#ff4048 72%,#ff0000 78%,#ff0000 79%,#ff90fc 80.5%,#e060f8 90%,#b020f0 100%)"></div>
<div style="position:absolute;left:539px;top:225px;width:254px;height:8px;background:repeating-linear-gradient(to right,rgba(255,255,255,0) 0px,rgba(255,255,255,0) 3.4px,rgba(255,255,255,0.28) 3.4px,rgba(255,255,255,0.28) 5px)"></div>
<div style="position:absolute;left:539px;top:225px;width:1.5px;height:8px;background:#000"></div>
<div class="t" style="left:539px;top:234.6px;font-size:11px;color:#3a3a3a;transform:scaleX(0.74);transform-origin:left top">0%</div>
<div class="t" style="left:662px;top:234.6px;font-size:11px;color:#3a3a3a;transform:translateX(-50%) scaleX(0.74);transform-origin:center top">50%</div>
<div class="t" style="left:793px;top:234.6px;font-size:11px;color:#3a3a3a;transform:translateX(-100%) scaleX(0.74);transform-origin:right top">100%</div>
</body></html>
